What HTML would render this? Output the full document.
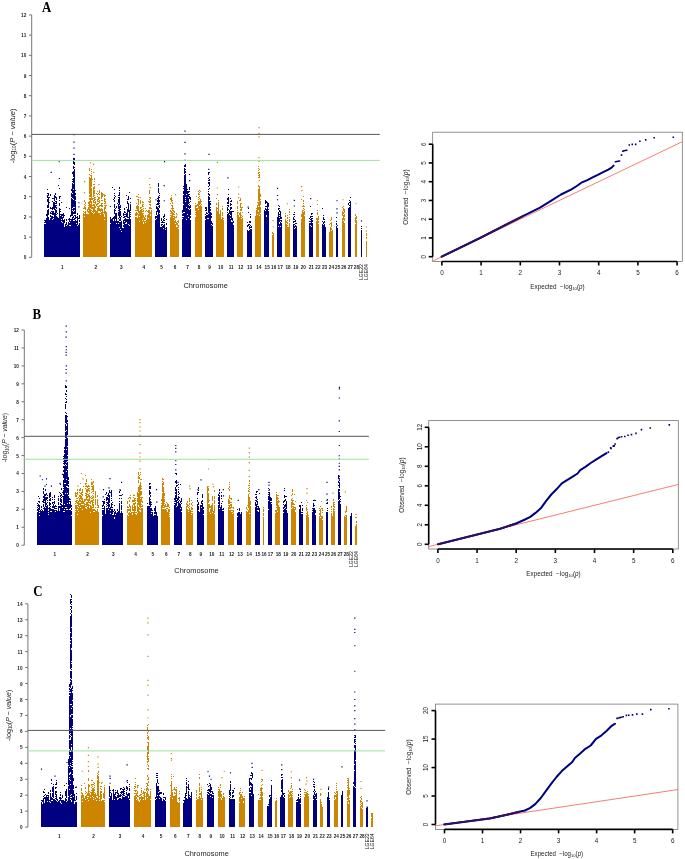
<!DOCTYPE html>
<html><head><meta charset="utf-8"><style>
html,body{margin:0;padding:0;background:#fff;width:685px;height:859px;overflow:hidden}
svg{display:block;will-change:transform}
text{font-family:"Liberation Sans",sans-serif;fill:#1a1a1a}
.tk{font-size:6px;font-weight:bold;fill:#222}
.ax{font-size:7.4px}
.tr{font-size:5.1px;fill:#111}
.qt{font-size:6.3px}
.qa{font-size:6.3px}
.lab{font-family:"Liberation Serif",serif;font-weight:bold;font-size:15.5px;fill:#000}
</style></head><body>
<svg width="685" height="859" viewBox="0 0 685 859">
<line x1="31.7" y1="257.3" x2="31.7" y2="14.9" stroke="#777" stroke-width="1"/>
<line x1="28.9" y1="257.3" x2="31.7" y2="257.3" stroke="#666" stroke-width="0.9"/>
<text transform="translate(26.3,259.3) scale(0.78,1)" class="tk" text-anchor="end">0</text>
<line x1="28.9" y1="237.1" x2="31.7" y2="237.1" stroke="#666" stroke-width="0.9"/>
<text transform="translate(26.3,239.1) scale(0.78,1)" class="tk" text-anchor="end">1</text>
<line x1="28.9" y1="216.9" x2="31.7" y2="216.9" stroke="#666" stroke-width="0.9"/>
<text transform="translate(26.3,218.9) scale(0.78,1)" class="tk" text-anchor="end">2</text>
<line x1="28.9" y1="196.7" x2="31.7" y2="196.7" stroke="#666" stroke-width="0.9"/>
<text transform="translate(26.3,198.7) scale(0.78,1)" class="tk" text-anchor="end">3</text>
<line x1="28.9" y1="176.5" x2="31.7" y2="176.5" stroke="#666" stroke-width="0.9"/>
<text transform="translate(26.3,178.5) scale(0.78,1)" class="tk" text-anchor="end">4</text>
<line x1="28.9" y1="156.3" x2="31.7" y2="156.3" stroke="#666" stroke-width="0.9"/>
<text transform="translate(26.3,158.3) scale(0.78,1)" class="tk" text-anchor="end">5</text>
<line x1="28.9" y1="136.1" x2="31.7" y2="136.1" stroke="#666" stroke-width="0.9"/>
<text transform="translate(26.3,138.1) scale(0.78,1)" class="tk" text-anchor="end">6</text>
<line x1="28.9" y1="115.9" x2="31.7" y2="115.9" stroke="#666" stroke-width="0.9"/>
<text transform="translate(26.3,117.9) scale(0.78,1)" class="tk" text-anchor="end">7</text>
<line x1="28.9" y1="95.7" x2="31.7" y2="95.7" stroke="#666" stroke-width="0.9"/>
<text transform="translate(26.3,97.7) scale(0.78,1)" class="tk" text-anchor="end">8</text>
<line x1="28.9" y1="75.5" x2="31.7" y2="75.5" stroke="#666" stroke-width="0.9"/>
<text transform="translate(26.3,77.5) scale(0.78,1)" class="tk" text-anchor="end">9</text>
<line x1="28.9" y1="55.3" x2="31.7" y2="55.3" stroke="#666" stroke-width="0.9"/>
<text transform="translate(26.3,57.3) scale(0.78,1)" class="tk" text-anchor="end">10</text>
<line x1="28.9" y1="35.1" x2="31.7" y2="35.1" stroke="#666" stroke-width="0.9"/>
<text transform="translate(26.3,37.1) scale(0.78,1)" class="tk" text-anchor="end">11</text>
<line x1="28.9" y1="14.9" x2="31.7" y2="14.9" stroke="#666" stroke-width="0.9"/>
<text transform="translate(26.3,16.9) scale(0.78,1)" class="tk" text-anchor="end">12</text>
<path d="M44 220h1v1h-1zM44 222h1v1h-1zM44 224h1v33h-1zM45 220h1v3h-1zM45 224h1v33h-1zM46 214h1v2h-1zM46 218h1v39h-1zM47 189h1v1h-1zM47 193h1v1h-1zM47 195h1v3h-1zM47 199h1v3h-1zM47 205h1v3h-1zM47 210h1v47h-1zM48 193h1v3h-1zM48 197h1v11h-1zM48 209h1v6h-1zM48 217h1v40h-1zM49 197h1v1h-1zM49 202h1v1h-1zM49 220h1v37h-1zM50 194h1v2h-1zM50 207h1v2h-1zM50 212h1v2h-1zM50 215h1v2h-1zM50 218h1v39h-1zM51 208h1v1h-1zM51 211h1v1h-1zM51 213h1v1h-1zM51 216h1v41h-1zM52 198h1v1h-1zM52 201h1v1h-1zM52 207h1v3h-1zM52 211h1v4h-1zM52 216h1v3h-1zM52 220h1v37h-1zM53 198h1v1h-1zM53 202h1v7h-1zM53 211h1v4h-1zM53 217h1v1h-1zM53 219h1v38h-1zM54 195h1v6h-1zM54 202h1v8h-1zM54 213h1v44h-1zM55 193h1v2h-1zM55 196h1v2h-1zM55 201h1v1h-1zM55 203h1v1h-1zM55 205h1v3h-1zM55 209h1v48h-1zM56 197h1v3h-1zM56 201h1v3h-1zM56 205h1v1h-1zM56 207h1v2h-1zM56 210h1v3h-1zM56 214h1v1h-1zM56 216h1v41h-1zM57 213h1v1h-1zM57 217h1v40h-1zM58 185h1v1h-1zM58 218h1v39h-1zM59 188h1v1h-1zM59 196h1v3h-1zM59 200h1v1h-1zM59 203h1v3h-1zM59 208h1v49h-1zM60 196h1v1h-1zM60 209h1v1h-1zM60 211h1v1h-1zM60 214h1v1h-1zM60 216h1v41h-1zM61 202h1v1h-1zM61 214h1v5h-1zM61 220h1v1h-1zM61 222h1v35h-1zM62 214h1v2h-1zM62 217h1v5h-1zM62 223h1v34h-1zM63 213h1v5h-1zM63 220h1v37h-1zM64 215h1v1h-1zM64 219h1v4h-1zM64 227h1v30h-1zM65 224h1v33h-1zM66 207h1v1h-1zM66 219h1v2h-1zM66 222h1v3h-1zM66 226h1v31h-1zM67 225h1v32h-1zM68 219h1v1h-1zM68 222h1v35h-1zM69 208h1v1h-1zM69 218h1v4h-1zM69 223h1v2h-1zM69 226h1v31h-1zM70 215h1v2h-1zM70 219h1v1h-1zM70 221h1v4h-1zM70 226h1v31h-1zM71 189h1v2h-1zM71 193h1v4h-1zM71 198h1v18h-1zM71 219h1v38h-1zM72 172h1v2h-1zM72 179h1v1h-1zM72 181h1v1h-1zM72 183h1v10h-1zM72 194h1v4h-1zM72 199h1v9h-1zM72 209h1v1h-1zM72 211h1v5h-1zM72 217h1v40h-1zM73 158h1v2h-1zM73 161h1v3h-1zM73 166h1v3h-1zM73 171h1v6h-1zM73 178h1v5h-1zM73 184h1v5h-1zM73 190h1v9h-1zM73 200h1v7h-1zM73 208h1v3h-1zM73 212h1v2h-1zM73 216h1v2h-1zM73 219h1v1h-1zM73 221h1v36h-1zM74 158h1v3h-1zM74 162h1v3h-1zM74 167h1v1h-1zM74 169h1v38h-1zM74 208h1v2h-1zM74 211h1v3h-1zM74 215h1v1h-1zM74 218h1v2h-1zM74 221h1v36h-1zM75 190h1v1h-1zM75 193h1v2h-1zM75 196h1v4h-1zM75 201h1v13h-1zM75 215h1v4h-1zM75 220h1v37h-1zM76 217h1v1h-1zM76 221h1v2h-1zM76 224h1v33h-1zM77 213h1v2h-1zM77 216h1v9h-1zM77 226h1v31h-1zM78 218h1v1h-1zM78 225h1v32h-1zM79 215h1v4h-1zM79 220h1v2h-1zM79 223h1v34h-1z" fill="#000080" shape-rendering="crispEdges"/>
<path d="M50.6 171.86h1.2v1.2h-1.2ZM58.6 161.15h1.2v1.2h-1.2ZM58.8 177.92h1.2v1.2h-1.2ZM78.3 202.16h1.2v1.2h-1.2ZM78.3 206.2h1.2v1.2h-1.2ZM73.4 134.09h1.2v1.2h-1.2ZM73.4 141.56h1.2v1.2h-1.2ZM73.4 147.62h1.2v1.2h-1.2ZM73.4 153.68h1.2v1.2h-1.2Z" fill="#000080"/>
<text transform="translate(62.4,269) scale(0.78,1)" class="tk" text-anchor="middle">1</text>
<path d="M83 208h1v1h-1zM83 211h1v1h-1zM83 213h1v44h-1zM84 200h1v2h-1zM84 204h1v1h-1zM84 206h1v3h-1zM84 212h1v1h-1zM84 214h1v2h-1zM84 217h1v40h-1zM85 202h1v2h-1zM85 205h1v1h-1zM85 207h1v3h-1zM85 211h1v46h-1zM86 214h1v43h-1zM87 209h1v3h-1zM87 214h1v43h-1zM88 202h1v2h-1zM88 205h1v1h-1zM88 207h1v3h-1zM88 211h1v2h-1zM88 214h1v43h-1zM89 168h1v3h-1zM89 174h1v1h-1zM89 177h1v17h-1zM89 195h1v2h-1zM89 198h1v2h-1zM89 201h1v56h-1zM90 175h1v1h-1zM90 178h1v19h-1zM90 198h1v5h-1zM90 204h1v4h-1zM90 209h1v48h-1zM91 169h1v1h-1zM91 171h1v1h-1zM91 173h1v1h-1zM91 175h1v12h-1zM91 188h1v12h-1zM91 201h1v8h-1zM91 210h1v1h-1zM91 212h1v45h-1zM92 179h1v1h-1zM92 198h1v2h-1zM92 205h1v1h-1zM92 207h1v2h-1zM92 211h1v1h-1zM92 213h1v44h-1zM93 184h1v1h-1zM93 187h1v10h-1zM93 198h1v1h-1zM93 200h1v3h-1zM93 204h1v2h-1zM93 207h1v6h-1zM93 214h1v43h-1zM94 178h1v2h-1zM94 181h1v1h-1zM94 184h1v1h-1zM94 186h1v3h-1zM94 190h1v4h-1zM94 195h1v1h-1zM94 197h1v4h-1zM94 202h1v1h-1zM94 204h1v8h-1zM94 213h1v44h-1zM95 197h1v1h-1zM95 199h1v1h-1zM95 201h1v3h-1zM95 206h1v2h-1zM95 210h1v47h-1zM96 193h1v1h-1zM96 204h1v2h-1zM96 211h1v46h-1zM97 191h1v1h-1zM97 194h1v1h-1zM97 196h1v1h-1zM97 199h1v3h-1zM97 203h1v2h-1zM97 206h1v1h-1zM97 208h1v49h-1zM98 193h1v1h-1zM98 197h1v3h-1zM98 201h1v1h-1zM98 203h1v1h-1zM98 206h1v5h-1zM98 213h1v44h-1zM99 190h1v3h-1zM99 194h1v1h-1zM99 197h1v2h-1zM99 200h1v3h-1zM99 205h1v2h-1zM99 208h1v3h-1zM99 213h1v44h-1zM100 205h1v1h-1zM100 209h1v3h-1zM100 213h1v1h-1zM100 215h1v42h-1zM101 192h1v7h-1zM101 200h1v1h-1zM101 203h1v4h-1zM101 208h1v3h-1zM101 212h1v45h-1zM102 193h1v4h-1zM102 200h1v1h-1zM102 203h1v1h-1zM102 205h1v2h-1zM102 209h1v48h-1zM103 194h1v1h-1zM103 212h1v1h-1zM103 214h1v43h-1zM104 195h1v2h-1zM104 198h1v4h-1zM104 203h1v1h-1zM104 205h1v1h-1zM104 207h1v7h-1zM104 217h1v2h-1zM104 220h1v37h-1zM105 195h1v1h-1zM105 199h1v1h-1zM105 201h1v3h-1zM105 205h1v4h-1zM105 211h1v46h-1zM106 205h1v1h-1zM106 212h1v45h-1z" fill="#CD8500" shape-rendering="crispEdges"/>
<path d="M83.9 192.06h1.2v1.2h-1.2ZM84.1 180.95h1.2v1.2h-1.2ZM90 162.37h1.2v1.2h-1.2ZM92.9 163.78h1.2v1.2h-1.2ZM93.1 171.86h1.2v1.2h-1.2ZM98.4 183.98h1.2v1.2h-1.2ZM103.4 194.08h1.2v1.2h-1.2Z" fill="#CD8500"/>
<text transform="translate(95.75,269) scale(0.78,1)" class="tk" text-anchor="middle">2</text>
<path d="M110 206h1v1h-1zM110 217h1v6h-1zM110 224h1v33h-1zM111 219h1v38h-1zM112 187h1v1h-1zM112 218h1v39h-1zM113 199h1v1h-1zM113 217h1v2h-1zM113 221h1v36h-1zM114 189h1v1h-1zM114 193h1v1h-1zM114 195h1v1h-1zM114 197h1v2h-1zM114 200h1v2h-1zM114 204h1v4h-1zM114 209h1v5h-1zM114 216h1v41h-1zM115 196h1v1h-1zM115 208h1v1h-1zM115 210h1v1h-1zM115 213h1v6h-1zM115 221h1v36h-1zM116 206h1v2h-1zM116 213h1v10h-1zM116 224h1v33h-1zM117 203h1v1h-1zM117 221h1v36h-1zM118 195h1v1h-1zM118 197h1v1h-1zM118 199h1v4h-1zM118 204h1v5h-1zM118 210h1v1h-1zM118 212h1v4h-1zM118 218h1v1h-1zM118 221h1v2h-1zM118 224h1v33h-1zM119 187h1v2h-1zM119 190h1v1h-1zM119 192h1v4h-1zM119 197h1v8h-1zM119 206h1v12h-1zM119 219h1v2h-1zM119 222h1v5h-1zM119 228h1v29h-1zM120 205h1v3h-1zM120 209h1v1h-1zM120 211h1v5h-1zM120 217h1v4h-1zM120 222h1v7h-1zM120 230h1v27h-1zM121 216h1v1h-1zM121 221h1v10h-1zM121 232h1v25h-1zM122 228h1v29h-1zM123 213h1v3h-1zM123 217h1v1h-1zM123 220h1v4h-1zM123 225h1v2h-1zM123 228h1v29h-1zM124 208h1v2h-1zM124 211h1v2h-1zM124 214h1v1h-1zM124 216h1v2h-1zM124 219h1v2h-1zM124 222h1v35h-1zM125 212h1v1h-1zM125 214h1v1h-1zM125 216h1v1h-1zM125 218h1v5h-1zM125 224h1v33h-1zM126 195h1v1h-1zM126 207h1v1h-1zM126 213h1v4h-1zM126 219h1v3h-1zM126 224h1v33h-1zM127 199h1v1h-1zM127 201h1v3h-1zM127 209h1v9h-1zM127 219h1v38h-1zM128 196h1v4h-1zM128 203h1v9h-1zM128 217h1v1h-1zM128 219h1v5h-1zM128 225h1v32h-1zM129 192h1v1h-1zM129 210h1v15h-1zM129 226h1v31h-1zM130 198h1v1h-1zM130 202h1v1h-1zM130 204h1v7h-1zM130 212h1v1h-1zM130 214h1v1h-1zM130 216h1v1h-1zM130 219h1v38h-1z" fill="#000080" shape-rendering="crispEdges"/>
<text transform="translate(121.4,269) scale(0.78,1)" class="tk" text-anchor="middle">3</text>
<path d="M135 210h1v1h-1zM135 213h1v3h-1zM135 217h1v40h-1zM136 196h1v1h-1zM136 203h1v1h-1zM136 206h1v3h-1zM136 210h1v1h-1zM136 212h1v4h-1zM136 217h1v40h-1zM137 196h1v1h-1zM137 199h1v1h-1zM137 205h1v6h-1zM137 213h1v2h-1zM137 218h1v39h-1zM138 194h1v1h-1zM138 197h1v1h-1zM138 199h1v6h-1zM138 206h1v7h-1zM138 214h1v43h-1zM139 211h1v5h-1zM139 217h1v4h-1zM139 222h1v35h-1zM140 200h1v4h-1zM140 207h1v2h-1zM140 210h1v47h-1zM141 207h1v1h-1zM141 209h1v48h-1zM142 201h1v2h-1zM142 204h1v3h-1zM142 209h1v1h-1zM142 211h1v1h-1zM142 213h1v7h-1zM142 221h1v36h-1zM143 202h1v1h-1zM143 204h1v1h-1zM143 206h1v1h-1zM143 208h1v1h-1zM143 210h1v2h-1zM143 213h1v1h-1zM143 215h1v3h-1zM143 219h1v3h-1zM143 224h1v33h-1zM144 217h1v3h-1zM144 221h1v36h-1zM145 208h1v1h-1zM145 211h1v1h-1zM145 215h1v2h-1zM145 218h1v2h-1zM145 221h1v1h-1zM145 223h1v34h-1zM146 210h1v1h-1zM146 220h1v37h-1zM147 211h1v1h-1zM147 215h1v42h-1zM148 201h1v1h-1zM148 210h1v3h-1zM148 214h1v4h-1zM148 219h1v38h-1zM149 190h1v4h-1zM149 197h1v1h-1zM149 199h1v1h-1zM149 201h1v2h-1zM149 204h1v1h-1zM149 207h1v2h-1zM149 210h1v47h-1zM150 197h1v2h-1zM150 200h1v3h-1zM150 204h1v2h-1zM150 207h1v2h-1zM150 212h1v2h-1zM150 216h1v41h-1zM151 208h1v1h-1zM151 210h1v47h-1z" fill="#CD8500" shape-rendering="crispEdges"/>
<path d="M149.2 177.92h1.2v1.2h-1.2ZM149 183.98h1.2v1.2h-1.2ZM149.6 187.01h1.2v1.2h-1.2ZM139.6 197.11h1.2v1.2h-1.2Z" fill="#CD8500"/>
<text transform="translate(143.8,269) scale(0.78,1)" class="tk" text-anchor="middle">4</text>
<path d="M155 216h1v3h-1zM155 220h1v37h-1zM156 204h1v1h-1zM156 206h1v3h-1zM156 211h1v4h-1zM156 216h1v2h-1zM156 219h1v38h-1zM157 198h1v1h-1zM157 200h1v2h-1zM157 203h1v2h-1zM157 207h1v5h-1zM157 215h1v42h-1zM158 183h1v4h-1zM158 188h1v5h-1zM158 196h1v9h-1zM158 206h1v1h-1zM158 208h1v49h-1zM159 193h1v1h-1zM159 195h1v1h-1zM159 197h1v1h-1zM159 200h1v2h-1zM159 203h1v1h-1zM159 205h1v3h-1zM159 210h1v3h-1zM159 214h1v43h-1zM160 227h1v30h-1zM161 218h1v3h-1zM161 222h1v1h-1zM161 224h1v2h-1zM161 227h1v30h-1zM162 221h1v2h-1zM162 224h1v1h-1zM162 226h1v31h-1zM163 216h1v2h-1zM163 219h1v2h-1zM163 222h1v1h-1zM163 225h1v3h-1zM163 229h1v28h-1zM164 214h1v3h-1zM164 218h1v1h-1zM164 220h1v1h-1zM164 222h1v1h-1zM164 224h1v33h-1zM165 228h1v1h-1zM165 230h1v27h-1zM166 219h1v1h-1zM166 223h1v2h-1zM166 227h1v30h-1z" fill="#000080" shape-rendering="crispEdges"/>
<path d="M163.9 160.95h1.2v1.2h-1.2ZM163.6 184.99h1.2v1.2h-1.2ZM163.7 200.14h1.2v1.2h-1.2ZM155.4 199.13h1.2v1.2h-1.2Z" fill="#000080"/>
<text transform="translate(161.45,269) scale(0.78,1)" class="tk" text-anchor="middle">5</text>
<path d="M170 198h1v2h-1zM170 203h1v1h-1zM170 210h1v2h-1zM170 213h1v1h-1zM170 215h1v1h-1zM170 217h1v40h-1zM171 195h1v1h-1zM171 197h1v5h-1zM171 205h1v1h-1zM171 208h1v1h-1zM171 211h1v3h-1zM171 215h1v42h-1zM172 200h1v1h-1zM172 202h1v2h-1zM172 205h1v6h-1zM172 212h1v45h-1zM173 208h1v1h-1zM173 210h1v2h-1zM173 213h1v2h-1zM173 216h1v1h-1zM173 218h1v39h-1zM174 211h1v2h-1zM174 214h1v1h-1zM174 216h1v4h-1zM174 221h1v36h-1zM175 217h1v1h-1zM175 220h1v3h-1zM175 224h1v33h-1zM176 213h1v1h-1zM176 216h1v2h-1zM176 222h1v3h-1zM176 227h1v30h-1zM177 221h1v1h-1zM177 223h1v3h-1zM177 227h1v30h-1zM178 220h1v3h-1zM178 225h1v3h-1zM178 229h1v28h-1z" fill="#CD8500" shape-rendering="crispEdges"/>
<path d="M174.9 194.08h1.2v1.2h-1.2ZM176.4 214.28h1.2v1.2h-1.2Z" fill="#CD8500"/>
<text transform="translate(175.1,269) scale(0.78,1)" class="tk" text-anchor="middle">6</text>
<path d="M182 210h1v3h-1zM182 214h1v2h-1zM182 217h1v1h-1zM182 219h1v38h-1zM183 186h1v1h-1zM183 188h1v1h-1zM183 191h1v3h-1zM183 195h1v9h-1zM183 205h1v7h-1zM183 213h1v3h-1zM183 217h1v40h-1zM184 165h1v2h-1zM184 168h1v6h-1zM184 175h1v37h-1zM184 213h1v44h-1zM185 164h1v3h-1zM185 169h1v1h-1zM185 171h1v2h-1zM185 174h1v23h-1zM185 198h1v1h-1zM185 200h1v1h-1zM185 202h1v55h-1zM186 184h1v10h-1zM186 195h1v12h-1zM186 208h1v11h-1zM186 220h1v37h-1zM187 189h1v1h-1zM187 191h1v23h-1zM187 215h1v42h-1zM188 191h1v2h-1zM188 194h1v3h-1zM188 198h1v6h-1zM188 205h1v3h-1zM188 209h1v8h-1zM188 218h1v39h-1zM189 187h1v3h-1zM189 191h1v1h-1zM189 194h1v1h-1zM189 196h1v3h-1zM189 202h1v1h-1zM189 204h1v1h-1zM189 206h1v3h-1zM189 210h1v47h-1zM190 197h1v3h-1zM190 201h1v1h-1zM190 205h1v3h-1zM190 209h1v6h-1zM190 216h1v2h-1zM190 220h1v37h-1z" fill="#000080" shape-rendering="crispEdges"/>
<path d="M184.4 130.45h1.2v1.2h-1.2ZM184.4 141.76h1.2v1.2h-1.2ZM184.4 153.28h1.2v1.2h-1.2ZM184.4 159.74h1.2v1.2h-1.2ZM188.9 173.88h1.2v1.2h-1.2ZM189.1 179.94h1.2v1.2h-1.2Z" fill="#000080"/>
<text transform="translate(187.45,269) scale(0.78,1)" class="tk" text-anchor="middle">7</text>
<path d="M195 203h1v1h-1zM195 205h1v6h-1zM195 212h1v1h-1zM195 214h1v1h-1zM195 217h1v40h-1zM196 196h1v1h-1zM196 205h1v2h-1zM196 208h1v49h-1zM197 204h1v2h-1zM197 208h1v49h-1zM198 191h1v1h-1zM198 193h1v2h-1zM198 197h1v1h-1zM198 199h1v1h-1zM198 201h1v8h-1zM198 210h1v47h-1zM199 190h1v1h-1zM199 192h1v1h-1zM199 194h1v1h-1zM199 196h1v1h-1zM199 198h1v1h-1zM199 201h1v4h-1zM199 206h1v51h-1zM200 191h1v1h-1zM200 199h1v5h-1zM200 205h1v52h-1zM201 201h1v1h-1zM201 204h1v1h-1zM201 206h1v51h-1z" fill="#CD8500" shape-rendering="crispEdges"/>
<text transform="translate(198.95,269) scale(0.78,1)" class="tk" text-anchor="middle">8</text>
<path d="M205 207h1v2h-1zM205 210h1v1h-1zM205 214h1v1h-1zM205 216h1v3h-1zM205 220h1v37h-1zM206 207h1v4h-1zM206 212h1v2h-1zM206 215h1v42h-1zM207 213h1v1h-1zM207 215h1v3h-1zM207 219h1v38h-1zM208 172h1v3h-1zM208 178h1v1h-1zM208 180h1v1h-1zM208 182h1v2h-1zM208 186h1v1h-1zM208 189h1v1h-1zM208 191h1v1h-1zM208 193h1v2h-1zM208 196h1v17h-1zM208 214h1v4h-1zM208 219h1v38h-1zM209 172h1v1h-1zM209 177h1v1h-1zM209 179h1v2h-1zM209 182h1v4h-1zM209 188h1v1h-1zM209 194h1v2h-1zM209 197h1v3h-1zM209 201h1v56h-1zM210 201h1v1h-1zM210 203h1v2h-1zM210 207h1v1h-1zM210 209h1v2h-1zM210 212h1v45h-1zM211 213h1v2h-1zM211 216h1v2h-1zM211 221h1v3h-1zM211 225h1v32h-1zM212 223h1v2h-1zM212 226h1v31h-1z" fill="#000080" shape-rendering="crispEdges"/>
<path d="M208.4 153.68h1.2v1.2h-1.2ZM208.2 168.83h1.2v1.2h-1.2Z" fill="#000080"/>
<text transform="translate(209.6,269) scale(0.78,1)" class="tk" text-anchor="middle">9</text>
<path d="M216 198h1v1h-1zM216 203h1v2h-1zM216 207h1v50h-1zM217 208h1v1h-1zM217 211h1v46h-1zM218 200h1v1h-1zM218 202h1v55h-1zM219 214h1v43h-1zM220 210h1v47h-1zM221 219h1v38h-1zM222 206h1v1h-1zM222 208h1v2h-1zM222 212h1v4h-1zM222 217h1v40h-1zM223 218h1v1h-1zM223 220h1v37h-1z" fill="#CD8500" shape-rendering="crispEdges"/>
<path d="M216.7 161.76h1.2v1.2h-1.2ZM216.6 187.41h1.2v1.2h-1.2ZM216.8 194.08h1.2v1.2h-1.2Z" fill="#CD8500"/>
<text transform="translate(220.65,269) scale(0.78,1)" class="tk" text-anchor="middle">10</text>
<path d="M227 198h1v2h-1zM227 202h1v2h-1zM227 205h1v1h-1zM227 207h1v4h-1zM227 212h1v1h-1zM227 214h1v43h-1zM228 189h1v1h-1zM228 194h1v1h-1zM228 197h1v7h-1zM228 205h1v2h-1zM228 209h1v1h-1zM228 213h1v44h-1zM229 210h1v4h-1zM229 215h1v42h-1zM230 198h1v1h-1zM230 201h1v1h-1zM230 203h1v3h-1zM230 207h1v3h-1zM230 211h1v4h-1zM230 216h1v2h-1zM230 219h1v38h-1zM231 200h1v2h-1zM231 204h1v1h-1zM231 207h1v2h-1zM231 211h1v9h-1zM231 222h1v35h-1zM232 211h1v1h-1zM232 218h1v3h-1zM232 222h1v35h-1zM233 211h1v1h-1zM233 221h1v2h-1zM233 225h1v32h-1z" fill="#000080" shape-rendering="crispEdges"/>
<path d="M227.3 177.31h1.2v1.2h-1.2Z" fill="#000080"/>
<text transform="translate(231.15,269) scale(0.78,1)" class="tk" text-anchor="middle">11</text>
<path d="M237 201h1v3h-1zM237 206h1v3h-1zM237 210h1v1h-1zM237 212h1v45h-1zM238 212h1v1h-1zM238 215h1v42h-1zM239 200h1v1h-1zM239 213h1v2h-1zM239 217h1v40h-1zM240 198h1v3h-1zM240 203h1v5h-1zM240 209h1v2h-1zM240 212h1v45h-1zM241 203h1v1h-1zM241 207h1v4h-1zM241 215h1v1h-1zM241 217h1v1h-1zM241 219h1v38h-1zM242 207h1v1h-1zM242 212h1v1h-1zM242 216h1v1h-1zM242 218h1v39h-1z" fill="#CD8500" shape-rendering="crispEdges"/>
<path d="M238.1 186.4h1.2v1.2h-1.2ZM238.1 193.47h1.2v1.2h-1.2ZM238.1 196.91h1.2v1.2h-1.2Z" fill="#CD8500"/>
<text transform="translate(240.7,269) scale(0.78,1)" class="tk" text-anchor="middle">12</text>
<path d="M247 222h1v1h-1zM247 225h1v2h-1zM247 230h1v27h-1zM248 208h1v1h-1zM248 212h1v1h-1zM248 224h1v2h-1zM248 231h1v26h-1zM249 221h1v2h-1zM249 224h1v1h-1zM249 226h1v3h-1zM249 230h1v27h-1zM250 214h1v1h-1zM250 216h1v2h-1zM250 221h1v2h-1zM250 225h1v1h-1zM250 227h1v1h-1zM250 229h1v28h-1zM251 226h1v2h-1zM251 229h1v28h-1z" fill="#000080" shape-rendering="crispEdges"/>
<path d="M247.6 206.6h1.2v1.2h-1.2Z" fill="#000080"/>
<text transform="translate(249.6,269) scale(0.78,1)" class="tk" text-anchor="middle">13</text>
<path d="M255 216h1v41h-1zM256 208h1v1h-1zM256 210h1v47h-1zM257 202h1v1h-1zM257 205h1v9h-1zM257 215h1v42h-1zM258 166h1v1h-1zM258 168h1v1h-1zM258 170h1v1h-1zM258 172h1v2h-1zM258 175h1v1h-1zM258 177h1v1h-1zM258 185h1v2h-1zM258 189h1v12h-1zM258 202h1v4h-1zM258 207h1v3h-1zM258 212h1v45h-1zM259 169h1v1h-1zM259 172h1v1h-1zM259 174h1v4h-1zM259 180h1v1h-1zM259 186h1v29h-1zM259 216h1v41h-1zM260 194h1v3h-1zM260 199h1v1h-1zM260 201h1v4h-1zM260 207h1v6h-1zM260 214h1v43h-1z" fill="#CD8500" shape-rendering="crispEdges"/>
<path d="M258.4 127.02h1.2v1.2h-1.2ZM258.4 132.87h1.2v1.2h-1.2ZM258.4 136.31h1.2v1.2h-1.2ZM258.4 157.11h1.2v1.2h-1.2ZM258.4 160.75h1.2v1.2h-1.2Z" fill="#CD8500"/>
<text transform="translate(258.85,269) scale(0.78,1)" class="tk" text-anchor="middle">14</text>
<path d="M264 210h1v47h-1zM265 200h1v4h-1zM265 206h1v1h-1zM265 208h1v2h-1zM265 211h1v46h-1zM266 201h1v2h-1zM266 206h1v1h-1zM266 209h1v6h-1zM266 217h1v40h-1zM267 202h1v55h-1zM268 203h1v4h-1zM268 209h1v1h-1zM268 211h1v46h-1z" fill="#000080" shape-rendering="crispEdges"/>
<text transform="translate(267.2,269) scale(0.78,1)" class="tk" text-anchor="middle">15</text>
<path d="M272 232h1v2h-1zM272 235h1v22h-1zM273 233h1v24h-1z" fill="#CD8500" shape-rendering="crispEdges"/>
<path d="M272.4 219.94h1.2v1.2h-1.2ZM272.6 226.4h1.2v1.2h-1.2Z" fill="#CD8500"/>
<text transform="translate(273.65,269) scale(0.78,1)" class="tk" text-anchor="middle">16</text>
<path d="M277 217h1v40h-1zM278 205h1v1h-1zM278 208h1v2h-1zM278 212h1v14h-1zM278 227h1v30h-1zM279 206h1v1h-1zM279 208h1v1h-1zM279 210h1v2h-1zM279 214h1v1h-1zM279 216h1v1h-1zM279 218h1v4h-1zM279 224h1v33h-1zM280 211h1v8h-1zM280 220h1v1h-1zM280 222h1v4h-1zM280 227h1v30h-1zM281 217h1v2h-1zM281 220h1v2h-1zM281 223h1v34h-1z" fill="#000080" shape-rendering="crispEdges"/>
<path d="M276.9 187.82h1.2v1.2h-1.2ZM276.9 194.89h1.2v1.2h-1.2ZM276.9 199.13h1.2v1.2h-1.2Z" fill="#000080"/>
<text transform="translate(280.2,269) scale(0.78,1)" class="tk" text-anchor="middle">17</text>
<path d="M285 213h1v1h-1zM285 215h1v2h-1zM285 219h1v38h-1zM286 221h1v2h-1zM286 224h1v33h-1zM287 215h1v1h-1zM287 217h1v2h-1zM287 220h1v1h-1zM287 222h1v2h-1zM287 225h1v1h-1zM287 227h1v30h-1zM288 227h1v30h-1zM289 209h1v1h-1zM289 211h1v2h-1zM289 214h1v1h-1zM289 217h1v1h-1zM289 219h1v3h-1zM289 223h1v34h-1z" fill="#CD8500" shape-rendering="crispEdges"/>
<path d="M286.7 203.17h1.2v1.2h-1.2Z" fill="#CD8500"/>
<text transform="translate(288.1,269) scale(0.78,1)" class="tk" text-anchor="middle">18</text>
<path d="M293 214h1v1h-1zM293 217h1v3h-1zM293 221h1v2h-1zM293 224h1v33h-1zM294 212h1v1h-1zM294 214h1v1h-1zM294 216h1v1h-1zM294 219h1v1h-1zM294 221h1v1h-1zM294 224h1v1h-1zM294 226h1v2h-1zM294 229h1v28h-1zM295 220h1v2h-1zM295 223h1v1h-1zM295 225h1v2h-1zM295 228h1v29h-1zM296 223h1v1h-1zM296 226h1v31h-1z" fill="#000080" shape-rendering="crispEdges"/>
<path d="M293.7 199.74h1.2v1.2h-1.2ZM293.7 205.39h1.2v1.2h-1.2Z" fill="#000080"/>
<text transform="translate(295.75,269) scale(0.78,1)" class="tk" text-anchor="middle">19</text>
<path d="M301 199h1v1h-1zM301 214h1v3h-1zM301 219h1v38h-1zM302 206h1v1h-1zM302 210h1v47h-1zM303 196h1v1h-1zM303 200h1v2h-1zM303 203h1v1h-1zM303 205h1v2h-1zM303 208h1v1h-1zM303 210h1v1h-1zM303 212h1v45h-1zM304 206h1v1h-1zM304 209h1v1h-1zM304 211h1v4h-1zM304 216h1v41h-1z" fill="#CD8500" shape-rendering="crispEdges"/>
<path d="M300.9 186h1.2v1.2h-1.2ZM301.4 190.04h1.2v1.2h-1.2Z" fill="#CD8500"/>
<text transform="translate(303.35,269) scale(0.78,1)" class="tk" text-anchor="middle">20</text>
<path d="M309 218h1v1h-1zM309 221h1v1h-1zM309 223h1v34h-1zM310 206h1v1h-1zM310 216h1v2h-1zM310 219h1v1h-1zM310 221h1v1h-1zM310 223h1v2h-1zM310 226h1v31h-1zM311 213h1v2h-1zM311 216h1v1h-1zM311 218h1v8h-1zM311 227h1v30h-1zM312 213h1v1h-1zM312 216h1v1h-1zM312 218h1v1h-1zM312 220h1v2h-1zM312 223h1v34h-1z" fill="#000080" shape-rendering="crispEdges"/>
<path d="M310.1 198.12h1.2v1.2h-1.2Z" fill="#000080"/>
<text transform="translate(311.25,269) scale(0.78,1)" class="tk" text-anchor="middle">21</text>
<path d="M316 218h1v2h-1zM316 221h1v36h-1zM317 204h1v1h-1zM317 210h1v1h-1zM317 212h1v3h-1zM317 218h1v39h-1zM318 216h1v4h-1zM318 221h1v2h-1zM318 224h1v33h-1z" fill="#CD8500" shape-rendering="crispEdges"/>
<path d="M316.7 200.14h1.2v1.2h-1.2Z" fill="#CD8500"/>
<text transform="translate(317.95,269) scale(0.78,1)" class="tk" text-anchor="middle">22</text>
<path d="M322 208h1v1h-1zM322 221h1v1h-1zM322 224h1v33h-1zM323 215h1v1h-1zM323 217h1v3h-1zM323 222h1v2h-1zM323 225h1v32h-1zM324 219h1v1h-1zM324 221h1v2h-1zM324 224h1v33h-1zM325 227h1v30h-1z" fill="#000080" shape-rendering="crispEdges"/>
<text transform="translate(324.5,269) scale(0.78,1)" class="tk" text-anchor="middle">23</text>
<path d="M329 224h1v1h-1zM329 232h1v25h-1zM330 220h1v1h-1zM330 223h1v1h-1zM330 227h1v30h-1zM331 217h1v3h-1zM331 222h1v5h-1zM331 228h1v2h-1zM331 231h1v26h-1zM332 230h1v27h-1z" fill="#CD8500" shape-rendering="crispEdges"/>
<text transform="translate(331.4,269) scale(0.78,1)" class="tk" text-anchor="middle">24</text>
<path d="M336 217h1v1h-1zM336 221h1v1h-1zM336 223h1v2h-1zM336 226h1v31h-1zM337 225h1v1h-1zM337 228h1v29h-1z" fill="#000080" shape-rendering="crispEdges"/>
<path d="M336.4 200.14h1.2v1.2h-1.2ZM336.4 208.22h1.2v1.2h-1.2ZM336.4 212.26h1.2v1.2h-1.2Z" fill="#000080"/>
<text transform="translate(337.7,269) scale(0.78,1)" class="tk" text-anchor="middle">25</text>
<path d="M342 207h1v1h-1zM342 211h1v5h-1zM342 218h1v39h-1zM343 206h1v1h-1zM343 208h1v3h-1zM343 212h1v2h-1zM343 215h1v5h-1zM343 221h1v36h-1zM344 209h1v4h-1zM344 214h1v3h-1zM344 218h1v3h-1zM344 223h1v34h-1z" fill="#CD8500" shape-rendering="crispEdges"/>
<path d="M342.4 199.13h1.2v1.2h-1.2Z" fill="#CD8500"/>
<text transform="translate(343.85,269) scale(0.78,1)" class="tk" text-anchor="middle">26</text>
<path d="M348 203h1v2h-1zM348 208h1v49h-1zM349 200h1v1h-1zM349 202h1v1h-1zM349 205h1v1h-1zM349 207h1v50h-1zM350 197h1v1h-1zM350 201h1v56h-1z" fill="#000080" shape-rendering="crispEdges"/>
<text transform="translate(350.25,269) scale(0.78,1)" class="tk" text-anchor="middle">27</text>
<path d="M355 214h1v2h-1zM355 217h1v6h-1zM355 224h1v33h-1zM356 216h1v3h-1zM356 220h1v37h-1z" fill="#CD8500" shape-rendering="crispEdges"/>
<path d="M355.4 203.17h1.2v1.2h-1.2Z" fill="#CD8500"/>
<text transform="translate(356.4,269) scale(0.78,1)" class="tk" text-anchor="middle">28</text>
<path d="M361 226h1v1h-1zM361 228h1v1h-1zM361 230h1v27h-1z" fill="#000080" shape-rendering="crispEdges"/>
<path d="M360.9 220.34h1.2v1.2h-1.2Z" fill="#000080"/>
<text transform="translate(363.4,264.15) rotate(-90)" class="tr" text-anchor="end">LGE22</text>
<path d="M366 233h1v3h-1zM366 237h1v2h-1zM366 241h1v16h-1z" fill="#CD8500" shape-rendering="crispEdges"/>
<path d="M365.7 226.4h1.2v1.2h-1.2ZM365.7 230.44h1.2v1.2h-1.2Z" fill="#CD8500"/>
<text transform="translate(368.1,264.15) rotate(-90)" class="tr" text-anchor="end">LGE64</text>
<line x1="31.7" y1="134.4" x2="379.7" y2="134.4" stroke="#555" stroke-width="1"/>
<line x1="31.7" y1="160.4" x2="379.7" y2="160.4" stroke="#9de49d" stroke-width="1"/>
<text x="205.6" y="288" class="ax" text-anchor="middle">Chromosome</text>
<text transform="translate(14.6,135.8) rotate(-90) scale(1.035,1)" class="ax" text-anchor="middle">-log<tspan font-size="4.5" dy="1.5">10</tspan><tspan dy="-1.5">(</tspan><tspan font-style="italic">P − value</tspan>)</text>
<text transform="translate(42,12.3) scale(0.83,1)" class="lab">A</text>
<line x1="24.3" y1="545.2" x2="24.3" y2="330.04" stroke="#777" stroke-width="1"/>
<line x1="21.5" y1="545.2" x2="24.3" y2="545.2" stroke="#666" stroke-width="0.9"/>
<text transform="translate(18.9,547.2) scale(0.78,1)" class="tk" text-anchor="end">0</text>
<line x1="21.5" y1="527.27" x2="24.3" y2="527.27" stroke="#666" stroke-width="0.9"/>
<text transform="translate(18.9,529.27) scale(0.78,1)" class="tk" text-anchor="end">1</text>
<line x1="21.5" y1="509.34" x2="24.3" y2="509.34" stroke="#666" stroke-width="0.9"/>
<text transform="translate(18.9,511.34) scale(0.78,1)" class="tk" text-anchor="end">2</text>
<line x1="21.5" y1="491.41" x2="24.3" y2="491.41" stroke="#666" stroke-width="0.9"/>
<text transform="translate(18.9,493.41) scale(0.78,1)" class="tk" text-anchor="end">3</text>
<line x1="21.5" y1="473.48" x2="24.3" y2="473.48" stroke="#666" stroke-width="0.9"/>
<text transform="translate(18.9,475.48) scale(0.78,1)" class="tk" text-anchor="end">4</text>
<line x1="21.5" y1="455.55" x2="24.3" y2="455.55" stroke="#666" stroke-width="0.9"/>
<text transform="translate(18.9,457.55) scale(0.78,1)" class="tk" text-anchor="end">5</text>
<line x1="21.5" y1="437.62" x2="24.3" y2="437.62" stroke="#666" stroke-width="0.9"/>
<text transform="translate(18.9,439.62) scale(0.78,1)" class="tk" text-anchor="end">6</text>
<line x1="21.5" y1="419.69" x2="24.3" y2="419.69" stroke="#666" stroke-width="0.9"/>
<text transform="translate(18.9,421.69) scale(0.78,1)" class="tk" text-anchor="end">7</text>
<line x1="21.5" y1="401.76" x2="24.3" y2="401.76" stroke="#666" stroke-width="0.9"/>
<text transform="translate(18.9,403.76) scale(0.78,1)" class="tk" text-anchor="end">8</text>
<line x1="21.5" y1="383.83" x2="24.3" y2="383.83" stroke="#666" stroke-width="0.9"/>
<text transform="translate(18.9,385.83) scale(0.78,1)" class="tk" text-anchor="end">9</text>
<line x1="21.5" y1="365.9" x2="24.3" y2="365.9" stroke="#666" stroke-width="0.9"/>
<text transform="translate(18.9,367.9) scale(0.78,1)" class="tk" text-anchor="end">10</text>
<line x1="21.5" y1="347.97" x2="24.3" y2="347.97" stroke="#666" stroke-width="0.9"/>
<text transform="translate(18.9,349.97) scale(0.78,1)" class="tk" text-anchor="end">11</text>
<line x1="21.5" y1="330.04" x2="24.3" y2="330.04" stroke="#666" stroke-width="0.9"/>
<text transform="translate(18.9,332.04) scale(0.78,1)" class="tk" text-anchor="end">12</text>
<path d="M37 503h1v1h-1zM37 505h1v1h-1zM37 507h1v1h-1zM37 509h1v2h-1zM37 512h1v33h-1zM38 496h1v1h-1zM38 501h1v1h-1zM38 504h1v3h-1zM38 508h1v37h-1zM39 498h1v1h-1zM39 501h1v2h-1zM39 505h1v5h-1zM39 511h1v1h-1zM39 513h1v2h-1zM39 516h1v29h-1zM40 510h1v35h-1zM41 506h1v2h-1zM41 509h1v1h-1zM41 511h1v34h-1zM42 501h1v1h-1zM42 510h1v35h-1zM43 488h1v2h-1zM43 491h1v3h-1zM43 496h1v2h-1zM43 499h1v4h-1zM43 504h1v3h-1zM43 508h1v1h-1zM43 511h1v34h-1zM44 494h1v7h-1zM44 502h1v1h-1zM44 507h1v38h-1zM45 489h1v2h-1zM45 494h1v2h-1zM45 497h1v10h-1zM45 508h1v37h-1zM46 484h1v1h-1zM46 493h1v2h-1zM46 497h1v3h-1zM46 503h1v2h-1zM46 506h1v39h-1zM47 495h1v1h-1zM47 497h1v2h-1zM47 500h1v1h-1zM47 502h1v1h-1zM47 505h1v40h-1zM48 508h1v1h-1zM48 511h1v1h-1zM48 513h1v1h-1zM48 515h1v30h-1zM49 493h1v5h-1zM49 499h1v2h-1zM49 502h1v4h-1zM49 507h1v38h-1zM50 492h1v5h-1zM50 498h1v3h-1zM50 503h1v2h-1zM50 506h1v1h-1zM50 508h1v3h-1zM50 512h1v33h-1zM51 509h1v2h-1zM51 512h1v33h-1zM52 497h1v1h-1zM52 499h1v1h-1zM52 502h1v2h-1zM52 506h1v2h-1zM52 509h1v36h-1zM53 502h1v1h-1zM53 504h1v4h-1zM53 509h1v36h-1zM54 495h1v3h-1zM54 499h1v1h-1zM54 501h1v3h-1zM54 506h1v3h-1zM54 510h1v35h-1zM55 505h1v2h-1zM55 508h1v1h-1zM55 510h1v1h-1zM55 512h1v33h-1zM56 506h1v1h-1zM56 508h1v1h-1zM56 510h1v35h-1zM57 511h1v34h-1zM58 496h1v1h-1zM58 498h1v3h-1zM58 502h1v3h-1zM58 506h1v39h-1zM59 492h1v1h-1zM59 506h1v2h-1zM59 511h1v34h-1zM60 484h1v1h-1zM60 493h1v1h-1zM60 495h1v2h-1zM60 498h1v4h-1zM60 503h1v2h-1zM60 506h1v39h-1zM61 488h1v2h-1zM61 494h1v2h-1zM61 497h1v1h-1zM61 499h1v4h-1zM61 504h1v41h-1zM62 492h1v1h-1zM62 496h1v1h-1zM62 505h1v2h-1zM62 508h1v37h-1zM63 456h1v1h-1zM63 458h1v2h-1zM63 461h1v1h-1zM63 463h1v1h-1zM63 466h1v2h-1zM63 470h1v2h-1zM63 474h1v4h-1zM63 480h1v7h-1zM63 488h1v1h-1zM63 490h1v5h-1zM63 496h1v15h-1zM63 512h1v33h-1zM64 447h1v2h-1zM64 450h1v3h-1zM64 454h1v11h-1zM64 466h1v17h-1zM64 484h1v20h-1zM64 505h1v4h-1zM64 510h1v1h-1zM64 512h1v33h-1zM65 385h1v3h-1zM65 393h1v2h-1zM65 398h1v1h-1zM65 402h1v1h-1zM65 404h1v5h-1zM65 412h1v1h-1zM65 415h1v8h-1zM65 424h1v7h-1zM65 432h1v6h-1zM65 439h1v25h-1zM65 465h1v18h-1zM65 484h1v9h-1zM65 494h1v13h-1zM65 508h1v37h-1zM66 386h1v2h-1zM66 390h1v2h-1zM66 394h1v1h-1zM66 396h1v1h-1zM66 399h1v1h-1zM66 401h1v2h-1zM66 413h1v1h-1zM66 415h1v9h-1zM66 426h1v4h-1zM66 431h1v18h-1zM66 450h1v12h-1zM66 463h1v2h-1zM66 466h1v5h-1zM66 472h1v7h-1zM66 480h1v6h-1zM66 487h1v20h-1zM66 508h1v1h-1zM66 510h1v35h-1zM67 416h1v1h-1zM67 420h1v2h-1zM67 423h1v12h-1zM67 438h1v8h-1zM67 447h1v8h-1zM67 456h1v5h-1zM67 462h1v7h-1zM67 470h1v16h-1zM67 488h1v5h-1zM67 494h1v9h-1zM67 504h1v5h-1zM67 510h1v35h-1zM68 477h1v3h-1zM68 481h1v3h-1zM68 485h1v2h-1zM68 488h1v7h-1zM68 496h1v49h-1zM69 498h1v2h-1zM69 501h1v1h-1zM69 504h1v5h-1zM69 510h1v35h-1zM70 499h1v1h-1zM70 501h1v7h-1zM70 510h1v35h-1zM71 505h1v2h-1zM71 508h1v2h-1zM71 511h1v4h-1zM71 516h1v29h-1z" fill="#000080" shape-rendering="crispEdges"/>
<path d="M39.6 475.39h1.2v1.2h-1.2ZM41.9 479.16h1.2v1.2h-1.2ZM44.4 485.43h1.2v1.2h-1.2ZM45.9 478.26h1.2v1.2h-1.2ZM50.9 485.43h1.2v1.2h-1.2ZM59.4 482.74h1.2v1.2h-1.2ZM61.9 473.78h1.2v1.2h-1.2ZM65.6 325.5h1.2v1.2h-1.2ZM65.7 331.23h1.2v1.2h-1.2ZM65.5 336.61h1.2v1.2h-1.2ZM65.6 346.11h1.2v1.2h-1.2ZM65.7 349.16h1.2v1.2h-1.2ZM65.5 351.85h1.2v1.2h-1.2ZM65.6 354.54h1.2v1.2h-1.2ZM65.7 365.3h1.2v1.2h-1.2ZM65.6 368.89h1.2v1.2h-1.2ZM65.5 372.47h1.2v1.2h-1.2ZM65.6 380.18h1.2v1.2h-1.2Z" fill="#000080"/>
<text transform="translate(54.8,556) scale(0.78,1)" class="tk" text-anchor="middle">1</text>
<path d="M75 492h1v5h-1zM75 501h1v1h-1zM75 503h1v1h-1zM75 505h1v4h-1zM75 510h1v1h-1zM75 512h1v33h-1zM76 493h1v1h-1zM76 495h1v2h-1zM76 498h1v1h-1zM76 500h1v3h-1zM76 505h1v40h-1zM77 489h1v2h-1zM77 492h1v3h-1zM77 498h1v1h-1zM77 500h1v1h-1zM77 502h1v2h-1zM77 505h1v1h-1zM77 507h1v2h-1zM77 510h1v4h-1zM77 515h1v30h-1zM78 497h1v1h-1zM78 501h1v6h-1zM78 508h1v3h-1zM78 512h1v33h-1zM79 489h1v2h-1zM79 492h1v1h-1zM79 495h1v2h-1zM79 498h1v4h-1zM79 503h1v2h-1zM79 506h1v39h-1zM80 483h1v1h-1zM80 488h1v3h-1zM80 493h1v1h-1zM80 495h1v4h-1zM80 500h1v2h-1zM80 503h1v4h-1zM80 508h1v37h-1zM81 492h1v3h-1zM81 496h1v4h-1zM81 501h1v3h-1zM81 505h1v40h-1zM82 489h1v4h-1zM82 494h1v2h-1zM82 498h1v6h-1zM82 505h1v4h-1zM82 510h1v35h-1zM83 486h1v1h-1zM83 501h1v3h-1zM83 505h1v40h-1zM84 499h1v3h-1zM84 503h1v42h-1zM85 475h1v1h-1zM85 483h1v2h-1zM85 486h1v1h-1zM85 488h1v1h-1zM85 493h1v1h-1zM85 495h1v1h-1zM85 499h1v2h-1zM85 504h1v1h-1zM85 506h1v1h-1zM85 508h1v37h-1zM86 479h1v3h-1zM86 483h1v1h-1zM86 485h1v2h-1zM86 489h1v3h-1zM86 493h1v7h-1zM86 502h1v5h-1zM86 509h1v36h-1zM87 486h1v2h-1zM87 489h1v4h-1zM87 494h1v1h-1zM87 496h1v2h-1zM87 499h1v2h-1zM87 502h1v4h-1zM87 507h1v38h-1zM88 485h1v2h-1zM88 488h1v3h-1zM88 494h1v3h-1zM88 499h1v4h-1zM88 504h1v41h-1zM89 486h1v1h-1zM89 488h1v1h-1zM89 490h1v2h-1zM89 493h1v1h-1zM89 495h1v6h-1zM89 502h1v1h-1zM89 505h1v1h-1zM89 508h1v37h-1zM90 497h1v1h-1zM90 501h1v3h-1zM90 505h1v7h-1zM90 513h1v32h-1zM91 479h1v1h-1zM91 482h1v3h-1zM91 486h1v1h-1zM91 489h1v1h-1zM91 492h1v1h-1zM91 496h1v1h-1zM91 498h1v1h-1zM91 500h1v2h-1zM91 506h1v39h-1zM92 483h1v2h-1zM92 486h1v4h-1zM92 491h1v1h-1zM92 495h1v1h-1zM92 497h1v2h-1zM92 500h1v6h-1zM92 507h1v1h-1zM92 509h1v36h-1zM93 481h1v2h-1zM93 485h1v7h-1zM93 493h1v1h-1zM93 496h1v2h-1zM93 499h1v2h-1zM93 502h1v1h-1zM93 504h1v4h-1zM93 509h1v2h-1zM93 512h1v33h-1zM94 509h1v2h-1zM94 512h1v33h-1zM95 491h1v7h-1zM95 499h1v6h-1zM95 507h1v1h-1zM95 510h1v35h-1zM96 511h1v34h-1zM97 495h1v2h-1zM97 499h1v7h-1zM97 507h1v1h-1zM97 509h1v36h-1zM98 505h1v3h-1zM98 512h1v33h-1z" fill="#CD8500" shape-rendering="crispEdges"/>
<path d="M77.4 485.43h1.2v1.2h-1.2ZM80.9 472.88h1.2v1.2h-1.2ZM82.4 478.26h1.2v1.2h-1.2ZM91.4 481.85h1.2v1.2h-1.2Z" fill="#CD8500"/>
<text transform="translate(87.6,556) scale(0.78,1)" class="tk" text-anchor="middle">2</text>
<path d="M102 501h1v1h-1zM102 505h1v2h-1zM102 508h1v1h-1zM102 510h1v5h-1zM102 516h1v29h-1zM103 501h1v5h-1zM103 508h1v1h-1zM103 510h1v35h-1zM104 499h1v1h-1zM104 501h1v3h-1zM104 506h1v39h-1zM105 494h1v1h-1zM105 514h1v31h-1zM106 492h1v2h-1zM106 497h1v4h-1zM106 502h1v1h-1zM106 504h1v1h-1zM106 506h1v1h-1zM106 508h1v37h-1zM107 495h1v1h-1zM107 497h1v3h-1zM107 502h1v2h-1zM107 505h1v1h-1zM107 508h1v37h-1zM108 493h1v4h-1zM108 498h1v11h-1zM108 510h1v35h-1zM109 490h1v3h-1zM109 495h1v8h-1zM109 504h1v3h-1zM109 508h1v37h-1zM110 492h1v1h-1zM110 507h1v3h-1zM110 511h1v2h-1zM110 514h1v31h-1zM111 490h1v7h-1zM111 498h1v1h-1zM111 500h1v1h-1zM111 503h1v5h-1zM111 509h1v36h-1zM112 502h1v1h-1zM112 504h1v1h-1zM112 507h1v1h-1zM112 509h1v5h-1zM112 515h1v30h-1zM113 511h1v1h-1zM113 515h1v30h-1zM114 505h1v1h-1zM114 509h1v2h-1zM114 512h1v5h-1zM114 519h1v26h-1zM115 511h1v3h-1zM115 515h1v30h-1zM116 513h1v32h-1zM117 509h1v2h-1zM117 512h1v33h-1zM118 511h1v34h-1zM119 491h1v2h-1zM119 495h1v1h-1zM119 498h1v1h-1zM119 501h1v1h-1zM119 503h1v42h-1zM120 490h1v1h-1zM120 495h1v1h-1zM120 513h1v32h-1zM121 495h1v1h-1zM121 498h1v1h-1zM121 501h1v3h-1zM121 505h1v5h-1zM121 511h1v34h-1zM122 494h1v1h-1zM122 513h1v32h-1z" fill="#000080" shape-rendering="crispEdges"/>
<path d="M102.9 489.02h1.2v1.2h-1.2ZM102.6 496.19h1.2v1.2h-1.2ZM109.4 478.08h1.2v1.2h-1.2ZM108.4 487.22h1.2v1.2h-1.2ZM121 481.85h1.2v1.2h-1.2ZM119.4 489.02h1.2v1.2h-1.2Z" fill="#000080"/>
<text transform="translate(113.3,556) scale(0.78,1)" class="tk" text-anchor="middle">3</text>
<path d="M127 501h1v3h-1zM127 506h1v2h-1zM127 509h1v4h-1zM127 515h1v30h-1zM128 498h1v1h-1zM128 507h1v1h-1zM128 509h1v2h-1zM128 513h1v2h-1zM128 516h1v29h-1zM129 497h1v1h-1zM129 500h1v2h-1zM129 504h1v3h-1zM129 509h1v2h-1zM129 512h1v33h-1zM130 495h1v1h-1zM130 497h1v2h-1zM130 506h1v6h-1zM130 513h1v32h-1zM131 512h1v33h-1zM132 500h1v2h-1zM132 505h1v6h-1zM132 512h1v1h-1zM132 515h1v30h-1zM133 495h1v1h-1zM133 497h1v1h-1zM133 500h1v2h-1zM133 503h1v2h-1zM133 507h1v1h-1zM133 509h1v2h-1zM133 512h1v33h-1zM134 495h1v1h-1zM134 498h1v4h-1zM134 503h1v42h-1zM135 498h1v1h-1zM135 500h1v1h-1zM135 502h1v2h-1zM135 506h1v5h-1zM135 512h1v1h-1zM135 514h1v31h-1zM136 512h1v1h-1zM136 515h1v30h-1zM137 492h1v5h-1zM137 498h1v4h-1zM137 503h1v9h-1zM137 513h1v32h-1zM138 472h1v3h-1zM138 476h1v3h-1zM138 480h1v3h-1zM138 487h1v5h-1zM138 493h1v12h-1zM138 507h1v38h-1zM139 475h1v1h-1zM139 477h1v2h-1zM139 485h1v22h-1zM139 508h1v2h-1zM139 511h1v34h-1zM140 472h1v1h-1zM140 474h1v1h-1zM140 479h1v1h-1zM140 482h1v8h-1zM140 491h1v5h-1zM140 497h1v1h-1zM140 499h1v9h-1zM140 509h1v1h-1zM140 512h1v33h-1zM141 479h1v1h-1zM141 486h1v1h-1zM141 488h1v1h-1zM141 491h1v4h-1zM141 497h1v5h-1zM141 504h1v1h-1zM141 506h1v1h-1zM141 508h1v37h-1zM142 497h1v1h-1zM142 501h1v2h-1zM142 505h1v2h-1zM142 508h1v37h-1z" fill="#CD8500" shape-rendering="crispEdges"/>
<path d="M139.4 419.09h1.2v1.2h-1.2ZM139.4 421.96h1.2v1.2h-1.2ZM139.4 426.26h1.2v1.2h-1.2ZM139.4 430.39h1.2v1.2h-1.2ZM139.4 435.23h1.2v1.2h-1.2ZM139.4 444.01h1.2v1.2h-1.2ZM139.4 452.44h1.2v1.2h-1.2ZM139.4 456.38h1.2v1.2h-1.2ZM139.4 460.51h1.2v1.2h-1.2ZM139.4 468.22h1.2v1.2h-1.2ZM133.4 494.4h1.2v1.2h-1.2Z" fill="#CD8500"/>
<text transform="translate(135.5,556) scale(0.78,1)" class="tk" text-anchor="middle">4</text>
<path d="M147 503h1v1h-1zM147 506h1v39h-1zM148 506h1v39h-1zM149 483h1v2h-1zM149 486h1v3h-1zM149 490h1v5h-1zM149 497h1v8h-1zM149 506h1v39h-1zM150 483h1v1h-1zM150 486h1v3h-1zM150 492h1v2h-1zM150 495h1v2h-1zM150 499h1v1h-1zM150 501h1v6h-1zM150 508h1v37h-1zM151 502h1v1h-1zM151 504h1v1h-1zM151 508h1v3h-1zM151 512h1v1h-1zM151 514h1v31h-1zM152 510h1v1h-1zM152 512h1v33h-1zM153 516h1v29h-1zM154 508h1v3h-1zM154 512h1v2h-1zM154 515h1v30h-1zM155 506h1v8h-1zM155 515h1v30h-1zM156 512h1v33h-1zM157 516h1v29h-1z" fill="#000080" shape-rendering="crispEdges"/>
<path d="M155.9 489.02h1.2v1.2h-1.2ZM156.2 501.57h1.2v1.2h-1.2Z" fill="#000080"/>
<text transform="translate(152.8,556) scale(0.78,1)" class="tk" text-anchor="middle">5</text>
<path d="M161 499h1v2h-1zM161 503h1v1h-1zM161 505h1v40h-1zM162 478h1v2h-1zM162 481h1v1h-1zM162 483h1v9h-1zM162 493h1v15h-1zM162 509h1v36h-1zM163 479h1v1h-1zM163 482h1v3h-1zM163 487h1v19h-1zM163 507h1v1h-1zM163 509h1v36h-1zM164 493h1v3h-1zM164 497h1v1h-1zM164 499h1v3h-1zM164 503h1v1h-1zM164 505h1v3h-1zM164 509h1v36h-1zM165 504h1v3h-1zM165 509h1v36h-1zM166 502h1v1h-1zM166 506h1v1h-1zM166 508h1v1h-1zM166 510h1v35h-1zM167 503h1v4h-1zM167 508h1v1h-1zM167 512h1v33h-1zM168 504h1v3h-1zM168 509h1v36h-1zM169 507h1v1h-1zM169 509h1v3h-1zM169 513h1v1h-1zM169 515h1v1h-1zM169 517h1v28h-1z" fill="#CD8500" shape-rendering="crispEdges"/>
<text transform="translate(166.3,556) scale(0.78,1)" class="tk" text-anchor="middle">6</text>
<path d="M174 498h1v2h-1zM174 501h1v1h-1zM174 503h1v1h-1zM174 505h1v40h-1zM175 473h1v1h-1zM175 481h1v2h-1zM175 487h1v4h-1zM175 492h1v2h-1zM175 495h1v7h-1zM175 503h1v42h-1zM176 473h1v2h-1zM176 480h1v4h-1zM176 485h1v2h-1zM176 489h1v10h-1zM176 500h1v6h-1zM176 507h1v38h-1zM177 485h1v1h-1zM177 498h1v3h-1zM177 502h1v1h-1zM177 506h1v39h-1zM178 484h1v1h-1zM178 487h1v1h-1zM178 489h1v1h-1zM178 491h1v2h-1zM178 494h1v1h-1zM178 496h1v4h-1zM178 501h1v44h-1zM179 493h1v1h-1zM179 497h1v1h-1zM179 500h1v1h-1zM179 503h1v42h-1zM180 484h1v1h-1zM180 501h1v2h-1zM180 504h1v4h-1zM180 509h1v36h-1zM181 498h1v4h-1zM181 503h1v1h-1zM181 507h1v4h-1zM181 512h1v33h-1z" fill="#000080" shape-rendering="crispEdges"/>
<path d="M175.2 444.91h1.2v1.2h-1.2ZM175.2 447.78h1.2v1.2h-1.2ZM175.2 451.36h1.2v1.2h-1.2ZM175.2 460.15h1.2v1.2h-1.2ZM175.2 463.92h1.2v1.2h-1.2ZM175.2 469.29h1.2v1.2h-1.2ZM177.4 481.85h1.2v1.2h-1.2Z" fill="#000080"/>
<text transform="translate(178.75,556) scale(0.78,1)" class="tk" text-anchor="middle">7</text>
<path d="M186 503h1v2h-1zM186 506h1v39h-1zM187 501h1v2h-1zM187 504h1v3h-1zM187 509h1v36h-1zM188 505h1v1h-1zM188 507h1v1h-1zM188 510h1v1h-1zM188 512h1v33h-1zM189 498h1v4h-1zM189 503h1v2h-1zM189 506h1v1h-1zM189 508h1v37h-1zM190 510h1v35h-1zM191 500h1v1h-1zM191 503h1v2h-1zM191 507h1v3h-1zM191 511h1v1h-1zM191 513h1v1h-1zM191 515h1v30h-1zM192 502h1v1h-1zM192 505h1v1h-1zM192 508h1v2h-1zM192 511h1v1h-1zM192 513h1v32h-1z" fill="#CD8500" shape-rendering="crispEdges"/>
<path d="M188.9 485.43h1.2v1.2h-1.2ZM189.4 488.12h1.2v1.2h-1.2Z" fill="#CD8500"/>
<text transform="translate(190.2,556) scale(0.78,1)" class="tk" text-anchor="middle">8</text>
<path d="M197 492h1v3h-1zM197 498h1v1h-1zM197 500h1v2h-1zM197 504h1v41h-1zM198 487h1v2h-1zM198 490h1v1h-1zM198 492h1v1h-1zM198 502h1v3h-1zM198 506h1v4h-1zM198 511h1v34h-1zM199 512h1v33h-1zM200 505h1v40h-1zM201 501h1v3h-1zM201 505h1v2h-1zM201 508h1v37h-1zM202 494h1v4h-1zM202 500h1v2h-1zM202 503h1v42h-1zM203 507h1v2h-1zM203 510h1v4h-1zM203 515h1v30h-1z" fill="#000080" shape-rendering="crispEdges"/>
<path d="M200.4 479.33h1.2v1.2h-1.2ZM197.4 489.02h1.2v1.2h-1.2Z" fill="#000080"/>
<text transform="translate(200.7,556) scale(0.78,1)" class="tk" text-anchor="middle">9</text>
<path d="M207 486h1v59h-1zM208 486h1v1h-1zM208 488h1v3h-1zM208 493h1v10h-1zM208 504h1v41h-1zM209 500h1v1h-1zM209 504h1v4h-1zM209 512h1v33h-1zM210 506h1v2h-1zM210 509h1v4h-1zM210 514h1v31h-1zM211 505h1v40h-1zM212 496h1v5h-1zM212 503h1v9h-1zM212 513h1v32h-1zM213 511h1v34h-1zM214 490h1v2h-1zM214 496h1v3h-1zM214 500h1v4h-1zM214 505h1v8h-1zM214 514h1v31h-1z" fill="#CD8500" shape-rendering="crispEdges"/>
<path d="M207.9 458.89h1.2v1.2h-1.2ZM207.9 468.4h1.2v1.2h-1.2ZM212.4 483.64h1.2v1.2h-1.2ZM212.9 486.33h1.2v1.2h-1.2Z" fill="#CD8500"/>
<text transform="translate(211.8,556) scale(0.78,1)" class="tk" text-anchor="middle">10</text>
<path d="M218 494h1v2h-1zM218 497h1v4h-1zM218 502h1v2h-1zM218 505h1v40h-1zM219 489h1v2h-1zM219 492h1v2h-1zM219 495h1v13h-1zM219 509h1v36h-1zM220 507h1v38h-1zM221 492h1v1h-1zM221 495h1v2h-1zM221 498h1v1h-1zM221 503h1v1h-1zM221 505h1v40h-1zM222 501h1v1h-1zM222 509h1v1h-1zM222 511h1v34h-1zM223 508h1v2h-1zM223 511h1v34h-1z" fill="#000080" shape-rendering="crispEdges"/>
<path d="M222.7 489.02h1.2v1.2h-1.2ZM222.9 495.29h1.2v1.2h-1.2Z" fill="#000080"/>
<text transform="translate(221.8,556) scale(0.78,1)" class="tk" text-anchor="middle">11</text>
<path d="M228 488h1v1h-1zM228 499h1v5h-1zM228 505h1v1h-1zM228 507h1v38h-1zM229 482h1v1h-1zM229 484h1v1h-1zM229 486h1v2h-1zM229 489h1v2h-1zM229 495h1v4h-1zM229 500h1v4h-1zM229 505h1v4h-1zM229 510h1v35h-1zM230 498h1v1h-1zM230 502h1v1h-1zM230 504h1v2h-1zM230 507h1v2h-1zM230 510h1v35h-1zM231 498h1v2h-1zM231 502h1v1h-1zM231 504h1v4h-1zM231 510h1v1h-1zM231 512h1v33h-1zM232 510h1v1h-1zM232 512h1v1h-1zM232 514h1v31h-1zM233 507h1v2h-1zM233 510h1v2h-1zM233 513h1v32h-1z" fill="#CD8500" shape-rendering="crispEdges"/>
<path d="M232.4 506.95h1.2v1.2h-1.2ZM232.3 511.43h1.2v1.2h-1.2Z" fill="#CD8500"/>
<text transform="translate(231.5,556) scale(0.78,1)" class="tk" text-anchor="middle">12</text>
<path d="M237 509h1v1h-1zM237 513h1v3h-1zM237 517h1v28h-1zM238 512h1v33h-1zM239 508h1v3h-1zM239 512h1v33h-1zM240 514h1v31h-1zM241 512h1v33h-1z" fill="#000080" shape-rendering="crispEdges"/>
<path d="M237.7 499.78h1.2v1.2h-1.2Z" fill="#000080"/>
<text transform="translate(240.2,556) scale(0.78,1)" class="tk" text-anchor="middle">13</text>
<path d="M246 507h1v2h-1zM246 511h1v34h-1zM247 505h1v1h-1zM247 509h1v1h-1zM247 512h1v33h-1zM248 485h1v1h-1zM248 488h1v1h-1zM248 490h1v2h-1zM248 494h1v14h-1zM248 510h1v35h-1zM249 480h1v2h-1zM249 483h1v1h-1zM249 485h1v1h-1zM249 487h1v1h-1zM249 489h1v1h-1zM249 491h1v1h-1zM249 493h1v1h-1zM249 497h1v16h-1zM249 514h1v31h-1zM250 501h1v4h-1zM250 506h1v39h-1z" fill="#CD8500" shape-rendering="crispEdges"/>
<path d="M248.7 447.6h1.2v1.2h-1.2ZM248.7 452.08h1.2v1.2h-1.2ZM248.7 456.56h1.2v1.2h-1.2ZM248.7 462.12h1.2v1.2h-1.2ZM248.7 469.83h1.2v1.2h-1.2ZM248.7 476.11h1.2v1.2h-1.2Z" fill="#CD8500"/>
<text transform="translate(249.2,556) scale(0.78,1)" class="tk" text-anchor="middle">14</text>
<path d="M255 494h1v1h-1zM255 497h1v1h-1zM255 500h1v1h-1zM255 502h1v4h-1zM255 507h1v38h-1zM256 491h1v2h-1zM256 494h1v1h-1zM256 496h1v3h-1zM256 500h1v2h-1zM256 504h1v41h-1zM257 491h1v1h-1zM257 499h1v1h-1zM257 501h1v4h-1zM257 506h1v1h-1zM257 508h1v2h-1zM257 511h1v34h-1zM258 506h1v4h-1zM258 512h1v33h-1zM259 493h1v1h-1zM259 508h1v37h-1z" fill="#000080" shape-rendering="crispEdges"/>
<path d="M258.2 489.02h1.2v1.2h-1.2Z" fill="#000080"/>
<text transform="translate(257.85,556) scale(0.78,1)" class="tk" text-anchor="middle">15</text>
<path d="M263 509h1v3h-1zM263 513h1v3h-1zM263 517h1v28h-1z" fill="#CD8500" shape-rendering="crispEdges"/>
<path d="M262.8 506.95h1.2v1.2h-1.2Z" fill="#CD8500"/>
<text transform="translate(264,556) scale(0.78,1)" class="tk" text-anchor="middle">16</text>
<path d="M268 488h1v1h-1zM268 492h1v1h-1zM268 494h1v1h-1zM268 496h1v4h-1zM268 501h1v8h-1zM268 510h1v35h-1zM269 489h1v1h-1zM269 492h1v53h-1zM270 497h1v4h-1zM270 502h1v43h-1zM271 498h1v3h-1zM271 502h1v1h-1zM271 504h1v41h-1z" fill="#000080" shape-rendering="crispEdges"/>
<path d="M268.4 481.85h1.2v1.2h-1.2ZM268.4 484.53h1.2v1.2h-1.2ZM268.4 489.91h1.2v1.2h-1.2Z" fill="#000080"/>
<text transform="translate(270.45,556) scale(0.78,1)" class="tk" text-anchor="middle">17</text>
<path d="M275 510h1v2h-1zM275 513h1v32h-1zM276 492h1v1h-1zM276 494h1v12h-1zM276 507h1v1h-1zM276 510h1v35h-1zM277 495h1v1h-1zM277 497h1v3h-1zM277 501h1v10h-1zM277 512h1v33h-1zM278 495h1v1h-1zM278 498h1v1h-1zM278 500h1v3h-1zM278 505h1v40h-1zM279 501h1v1h-1zM279 507h1v38h-1z" fill="#CD8500" shape-rendering="crispEdges"/>
<text transform="translate(278.3,556) scale(0.78,1)" class="tk" text-anchor="middle">18</text>
<path d="M283 501h1v2h-1zM283 504h1v1h-1zM283 507h1v2h-1zM283 510h1v2h-1zM283 513h1v32h-1zM284 488h1v1h-1zM284 495h1v3h-1zM284 500h1v2h-1zM284 505h1v3h-1zM284 509h1v36h-1zM285 496h1v1h-1zM285 499h1v2h-1zM285 504h1v3h-1zM285 508h1v37h-1zM286 496h1v1h-1zM286 501h1v8h-1zM286 510h1v35h-1zM287 513h1v32h-1z" fill="#000080" shape-rendering="crispEdges"/>
<path d="M283.9 489.91h1.2v1.2h-1.2Z" fill="#000080"/>
<text transform="translate(285.85,556) scale(0.78,1)" class="tk" text-anchor="middle">19</text>
<path d="M291 495h1v1h-1zM291 499h1v2h-1zM291 502h1v6h-1zM291 509h1v36h-1zM292 489h1v3h-1zM292 493h1v2h-1zM292 498h1v1h-1zM292 500h1v5h-1zM292 506h1v1h-1zM292 508h1v37h-1zM293 500h1v1h-1zM293 503h1v2h-1zM293 506h1v39h-1zM294 494h1v1h-1zM294 504h1v1h-1zM294 507h1v1h-1zM294 509h1v36h-1zM295 501h1v1h-1zM295 507h1v3h-1zM295 512h1v33h-1z" fill="#CD8500" shape-rendering="crispEdges"/>
<path d="M291.9 489.38h1.2v1.2h-1.2Z" fill="#CD8500"/>
<text transform="translate(293.8,556) scale(0.78,1)" class="tk" text-anchor="middle">20</text>
<path d="M299 505h1v2h-1zM299 509h1v36h-1zM300 505h1v40h-1zM301 502h1v1h-1zM301 512h1v1h-1zM301 514h1v31h-1zM302 505h1v1h-1zM302 508h1v3h-1zM302 512h1v1h-1zM302 514h1v31h-1z" fill="#000080" shape-rendering="crispEdges"/>
<text transform="translate(301.3,556) scale(0.78,1)" class="tk" text-anchor="middle">21</text>
<path d="M306 500h1v1h-1zM306 505h1v1h-1zM306 507h1v4h-1zM306 513h1v1h-1zM306 515h1v30h-1zM307 502h1v1h-1zM307 509h1v1h-1zM307 511h1v34h-1zM308 515h1v1h-1zM308 517h1v28h-1z" fill="#CD8500" shape-rendering="crispEdges"/>
<path d="M306.5 488.12h1.2v1.2h-1.2ZM306.4 492.6h1.2v1.2h-1.2Z" fill="#CD8500"/>
<text transform="translate(307.8,556) scale(0.78,1)" class="tk" text-anchor="middle">22</text>
<path d="M312 508h1v1h-1zM312 510h1v1h-1zM312 512h1v33h-1zM313 500h1v1h-1zM313 503h1v4h-1zM313 508h1v37h-1zM314 505h1v1h-1zM314 508h1v37h-1zM315 500h1v1h-1zM315 510h1v3h-1zM315 515h1v30h-1z" fill="#000080" shape-rendering="crispEdges"/>
<path d="M313.7 499.78h1.2v1.2h-1.2Z" fill="#000080"/>
<text transform="translate(314.4,556) scale(0.78,1)" class="tk" text-anchor="middle">23</text>
<path d="M319 508h1v1h-1zM319 510h1v1h-1zM319 513h1v2h-1zM319 516h1v29h-1zM320 506h1v1h-1zM320 509h1v8h-1zM320 518h1v27h-1zM321 501h1v1h-1zM321 508h1v1h-1zM321 516h1v29h-1zM322 508h1v3h-1zM322 512h1v1h-1zM322 516h1v3h-1zM322 520h1v25h-1z" fill="#CD8500" shape-rendering="crispEdges"/>
<text transform="translate(321.4,556) scale(0.78,1)" class="tk" text-anchor="middle">24</text>
<path d="M326 503h1v1h-1zM326 512h1v33h-1zM327 499h1v1h-1zM327 502h1v2h-1zM327 508h1v1h-1zM327 510h1v1h-1zM327 512h1v33h-1z" fill="#000080" shape-rendering="crispEdges"/>
<path d="M326.4 481.85h1.2v1.2h-1.2ZM326.4 493.5h1.2v1.2h-1.2ZM326.4 499.78h1.2v1.2h-1.2Z" fill="#000080"/>
<text transform="translate(327.55,556) scale(0.78,1)" class="tk" text-anchor="middle">25</text>
<path d="M331 506h1v2h-1zM331 509h1v1h-1zM331 511h1v1h-1zM331 513h1v32h-1zM332 516h1v29h-1zM333 499h1v2h-1zM333 502h1v5h-1zM333 508h1v37h-1zM334 502h1v1h-1zM334 504h1v1h-1zM334 506h1v2h-1zM334 509h1v1h-1zM334 511h1v34h-1z" fill="#CD8500" shape-rendering="crispEdges"/>
<path d="M332.4 492.6h1.2v1.2h-1.2Z" fill="#CD8500"/>
<text transform="translate(333.5,556) scale(0.78,1)" class="tk" text-anchor="middle">26</text>
<path d="M338 475h1v4h-1zM338 481h1v2h-1zM338 485h1v1h-1zM338 489h1v11h-1zM338 501h1v44h-1zM339 476h1v1h-1zM339 478h1v1h-1zM339 480h1v1h-1zM339 482h1v6h-1zM339 489h1v2h-1zM339 492h1v7h-1zM339 500h1v45h-1zM340 496h1v1h-1zM340 499h1v1h-1zM340 501h1v1h-1zM340 504h1v41h-1z" fill="#000080" shape-rendering="crispEdges"/>
<path d="M338.8 386.82h1.2v1.2h-1.2ZM338.8 388.25h1.2v1.2h-1.2ZM338.8 397.39h1.2v1.2h-1.2ZM338.7 420.35h1.2v1.2h-1.2ZM338.7 430.92h1.2v1.2h-1.2ZM338.7 444.91h1.2v1.2h-1.2ZM338.7 455.13h1.2v1.2h-1.2ZM338.7 458.54h1.2v1.2h-1.2ZM338.7 462.66h1.2v1.2h-1.2ZM338.7 465.71h1.2v1.2h-1.2ZM338.7 469.29h1.2v1.2h-1.2ZM338.7 475.57h1.2v1.2h-1.2ZM338.7 479.33h1.2v1.2h-1.2Z" fill="#000080"/>
<text transform="translate(340.05,556) scale(0.78,1)" class="tk" text-anchor="middle">27</text>
<path d="M344 516h1v29h-1zM345 511h1v2h-1zM345 515h1v1h-1zM345 517h1v28h-1zM346 506h1v6h-1zM346 515h1v30h-1z" fill="#CD8500" shape-rendering="crispEdges"/>
<path d="M344.7 491.35h1.2v1.2h-1.2Z" fill="#CD8500"/>
<text transform="translate(346.35,556) scale(0.78,1)" class="tk" text-anchor="middle">28</text>
<path d="M350 516h1v29h-1zM351 513h1v32h-1z" fill="#000080" shape-rendering="crispEdges"/>
<text transform="translate(352.85,551.15) rotate(-90)" class="tr" text-anchor="end">LGE22</text>
<path d="M355 517h1v1h-1zM355 526h1v19h-1zM356 517h1v1h-1zM356 521h1v2h-1zM356 524h1v21h-1z" fill="#CD8500" shape-rendering="crispEdges"/>
<path d="M355.4 513.76h1.2v1.2h-1.2Z" fill="#CD8500"/>
<text transform="translate(357.8,551.15) rotate(-90)" class="tr" text-anchor="end">LGE64</text>
<line x1="24.3" y1="436.3" x2="368.9" y2="436.3" stroke="#555" stroke-width="1"/>
<line x1="24.3" y1="459.3" x2="368.9" y2="459.3" stroke="#9de49d" stroke-width="1"/>
<text x="196.5" y="573" class="ax" text-anchor="middle">Chromosome</text>
<text transform="translate(7.2,437.6) rotate(-90) scale(0.93,1)" class="ax" text-anchor="middle">-log<tspan font-size="4.5" dy="1.5">10</tspan><tspan dy="-1.5">(</tspan><tspan font-style="italic">P − value</tspan>)</text>
<text transform="translate(32.4,319.3) scale(0.83,1)" class="lab">B</text>
<line x1="27.9" y1="827.1" x2="27.9" y2="603.8" stroke="#777" stroke-width="1"/>
<line x1="25.099999999999998" y1="827.1" x2="27.9" y2="827.1" stroke="#666" stroke-width="0.9"/>
<text transform="translate(22.5,829.1) scale(0.78,1)" class="tk" text-anchor="end">0</text>
<line x1="25.099999999999998" y1="811.15" x2="27.9" y2="811.15" stroke="#666" stroke-width="0.9"/>
<text transform="translate(22.5,813.15) scale(0.78,1)" class="tk" text-anchor="end">1</text>
<line x1="25.099999999999998" y1="795.2" x2="27.9" y2="795.2" stroke="#666" stroke-width="0.9"/>
<text transform="translate(22.5,797.2) scale(0.78,1)" class="tk" text-anchor="end">2</text>
<line x1="25.099999999999998" y1="779.25" x2="27.9" y2="779.25" stroke="#666" stroke-width="0.9"/>
<text transform="translate(22.5,781.25) scale(0.78,1)" class="tk" text-anchor="end">3</text>
<line x1="25.099999999999998" y1="763.3" x2="27.9" y2="763.3" stroke="#666" stroke-width="0.9"/>
<text transform="translate(22.5,765.3) scale(0.78,1)" class="tk" text-anchor="end">4</text>
<line x1="25.099999999999998" y1="747.35" x2="27.9" y2="747.35" stroke="#666" stroke-width="0.9"/>
<text transform="translate(22.5,749.35) scale(0.78,1)" class="tk" text-anchor="end">5</text>
<line x1="25.099999999999998" y1="731.4" x2="27.9" y2="731.4" stroke="#666" stroke-width="0.9"/>
<text transform="translate(22.5,733.4) scale(0.78,1)" class="tk" text-anchor="end">6</text>
<line x1="25.099999999999998" y1="715.45" x2="27.9" y2="715.45" stroke="#666" stroke-width="0.9"/>
<text transform="translate(22.5,717.45) scale(0.78,1)" class="tk" text-anchor="end">7</text>
<line x1="25.099999999999998" y1="699.5" x2="27.9" y2="699.5" stroke="#666" stroke-width="0.9"/>
<text transform="translate(22.5,701.5) scale(0.78,1)" class="tk" text-anchor="end">8</text>
<line x1="25.099999999999998" y1="683.55" x2="27.9" y2="683.55" stroke="#666" stroke-width="0.9"/>
<text transform="translate(22.5,685.55) scale(0.78,1)" class="tk" text-anchor="end">9</text>
<line x1="25.099999999999998" y1="667.6" x2="27.9" y2="667.6" stroke="#666" stroke-width="0.9"/>
<text transform="translate(22.5,669.6) scale(0.78,1)" class="tk" text-anchor="end">10</text>
<line x1="25.099999999999998" y1="651.65" x2="27.9" y2="651.65" stroke="#666" stroke-width="0.9"/>
<text transform="translate(22.5,653.65) scale(0.78,1)" class="tk" text-anchor="end">11</text>
<line x1="25.099999999999998" y1="635.7" x2="27.9" y2="635.7" stroke="#666" stroke-width="0.9"/>
<text transform="translate(22.5,637.7) scale(0.78,1)" class="tk" text-anchor="end">12</text>
<line x1="25.099999999999998" y1="619.75" x2="27.9" y2="619.75" stroke="#666" stroke-width="0.9"/>
<text transform="translate(22.5,621.75) scale(0.78,1)" class="tk" text-anchor="end">13</text>
<line x1="25.099999999999998" y1="603.8" x2="27.9" y2="603.8" stroke="#666" stroke-width="0.9"/>
<text transform="translate(22.5,605.8) scale(0.78,1)" class="tk" text-anchor="end">14</text>
<path d="M41 800h1v1h-1zM41 802h1v25h-1zM42 800h1v2h-1zM42 804h1v23h-1zM43 791h1v2h-1zM43 796h1v1h-1zM43 798h1v29h-1zM44 789h1v1h-1zM44 792h1v1h-1zM44 795h1v1h-1zM44 797h1v2h-1zM44 803h1v24h-1zM45 794h1v1h-1zM45 797h1v30h-1zM46 795h1v32h-1zM47 795h1v1h-1zM47 797h1v4h-1zM47 802h1v25h-1zM48 792h1v2h-1zM48 795h1v32h-1zM49 800h1v1h-1zM49 802h1v25h-1zM50 790h1v2h-1zM50 793h1v9h-1zM50 803h1v24h-1zM51 779h1v2h-1zM51 783h1v1h-1zM51 797h1v3h-1zM51 801h1v26h-1zM52 787h1v5h-1zM52 793h1v4h-1zM52 798h1v2h-1zM52 801h1v26h-1zM53 784h1v1h-1zM53 786h1v12h-1zM53 799h1v28h-1zM54 799h1v28h-1zM55 784h1v1h-1zM55 787h1v2h-1zM55 791h1v4h-1zM55 796h1v1h-1zM55 798h1v1h-1zM55 800h1v27h-1zM56 780h1v1h-1zM56 782h1v3h-1zM56 787h1v1h-1zM56 791h1v2h-1zM56 794h1v6h-1zM56 801h1v26h-1zM57 799h1v2h-1zM57 802h1v25h-1zM58 801h1v26h-1zM59 797h1v2h-1zM59 800h1v27h-1zM60 792h1v1h-1zM60 794h1v2h-1zM60 797h1v4h-1zM60 803h1v24h-1zM61 798h1v1h-1zM61 800h1v3h-1zM61 804h1v23h-1zM62 795h1v3h-1zM62 800h1v27h-1zM63 800h1v27h-1zM64 785h1v1h-1zM64 801h1v26h-1zM65 791h1v5h-1zM65 798h1v29h-1zM66 783h1v1h-1zM66 789h1v9h-1zM66 799h1v2h-1zM66 802h1v25h-1zM67 801h1v26h-1zM68 759h1v6h-1zM68 766h1v19h-1zM68 786h1v10h-1zM68 797h1v30h-1zM69 684h1v3h-1zM69 688h1v2h-1zM69 691h1v1h-1zM69 693h1v2h-1zM69 696h1v38h-1zM69 735h1v4h-1zM69 740h1v9h-1zM69 750h1v5h-1zM69 756h1v11h-1zM69 768h1v5h-1zM69 775h1v2h-1zM69 778h1v1h-1zM69 780h1v9h-1zM69 790h1v37h-1zM70 594h1v1h-1zM70 599h1v5h-1zM70 606h1v1h-1zM70 609h1v1h-1zM70 613h1v1h-1zM70 616h1v16h-1zM70 633h1v7h-1zM70 641h1v2h-1zM70 644h1v25h-1zM70 671h1v7h-1zM70 679h1v2h-1zM70 682h1v6h-1zM70 689h1v3h-1zM70 693h1v11h-1zM70 705h1v10h-1zM70 717h1v11h-1zM70 729h1v4h-1zM70 734h1v1h-1zM70 736h1v1h-1zM70 740h1v11h-1zM70 752h1v5h-1zM70 758h1v5h-1zM70 764h1v1h-1zM70 766h1v6h-1zM70 774h1v6h-1zM70 781h1v3h-1zM70 785h1v10h-1zM70 796h1v1h-1zM70 798h1v1h-1zM70 800h1v27h-1zM71 595h1v3h-1zM71 599h1v1h-1zM71 601h1v2h-1zM71 604h1v1h-1zM71 606h1v3h-1zM71 610h1v3h-1zM71 614h1v13h-1zM71 628h1v9h-1zM71 638h1v10h-1zM71 650h1v11h-1zM71 662h1v1h-1zM71 664h1v4h-1zM71 669h1v1h-1zM71 671h1v8h-1zM71 680h1v5h-1zM71 688h1v16h-1zM71 705h1v3h-1zM71 709h1v5h-1zM71 715h1v21h-1zM71 737h1v7h-1zM71 745h1v2h-1zM71 750h1v16h-1zM71 767h1v27h-1zM71 795h1v2h-1zM71 798h1v2h-1zM71 802h1v25h-1zM72 686h1v3h-1zM72 690h1v1h-1zM72 693h1v7h-1zM72 701h1v5h-1zM72 707h1v7h-1zM72 715h1v3h-1zM72 719h1v7h-1zM72 727h1v1h-1zM72 729h1v31h-1zM72 761h1v1h-1zM72 763h1v1h-1zM72 765h1v1h-1zM72 767h1v2h-1zM72 770h1v4h-1zM72 775h1v52h-1zM73 778h1v3h-1zM73 785h1v4h-1zM73 790h1v6h-1zM73 797h1v30h-1zM74 794h1v7h-1zM74 804h1v23h-1zM75 787h1v1h-1zM75 800h1v1h-1zM75 802h1v25h-1zM76 793h1v1h-1zM76 796h1v4h-1zM76 802h1v25h-1z" fill="#000080" shape-rendering="crispEdges"/>
<path d="M40.9 768.44h1.2v1.2h-1.2ZM54.4 775.46h1.2v1.2h-1.2ZM66.4 761.9h1.2v1.2h-1.2ZM75.8 786.62h1.2v1.2h-1.2Z" fill="#000080"/>
<text transform="translate(59.35,838.2) scale(0.78,1)" class="tk" text-anchor="middle">1</text>
<path d="M81 785h1v1h-1zM81 788h1v3h-1zM81 792h1v2h-1zM81 795h1v32h-1zM82 793h1v5h-1zM82 799h1v2h-1zM82 802h1v25h-1zM83 795h1v32h-1zM84 783h1v1h-1zM84 798h1v29h-1zM85 787h1v2h-1zM85 791h1v1h-1zM85 793h1v1h-1zM85 796h1v3h-1zM85 800h1v27h-1zM86 792h1v1h-1zM86 795h1v32h-1zM87 793h1v3h-1zM87 797h1v1h-1zM87 799h1v28h-1zM88 770h1v2h-1zM88 778h1v3h-1zM88 784h1v12h-1zM88 797h1v3h-1zM88 801h1v26h-1zM89 785h1v2h-1zM89 791h1v1h-1zM89 793h1v34h-1zM90 792h1v1h-1zM90 795h1v2h-1zM90 798h1v29h-1zM91 780h1v1h-1zM91 784h1v2h-1zM91 787h1v1h-1zM91 790h1v1h-1zM91 792h1v35h-1zM92 780h1v1h-1zM92 784h1v1h-1zM92 786h1v1h-1zM92 788h1v8h-1zM92 797h1v30h-1zM93 782h1v1h-1zM93 784h1v1h-1zM93 788h1v9h-1zM93 798h1v1h-1zM93 800h1v27h-1zM94 783h1v1h-1zM94 785h1v1h-1zM94 787h1v1h-1zM94 789h1v2h-1zM94 792h1v1h-1zM94 794h1v33h-1zM95 793h1v5h-1zM95 799h1v28h-1zM96 795h1v1h-1zM96 797h1v3h-1zM96 801h1v26h-1zM97 773h1v1h-1zM97 775h1v4h-1zM97 780h1v16h-1zM97 798h1v29h-1zM98 771h1v2h-1zM98 774h1v1h-1zM98 776h1v51h-1zM99 782h1v1h-1zM99 796h1v1h-1zM99 799h1v1h-1zM99 801h1v26h-1zM100 786h1v1h-1zM100 788h1v1h-1zM100 791h1v36h-1zM101 783h1v1h-1zM101 786h1v1h-1zM101 789h1v1h-1zM101 791h1v2h-1zM101 794h1v5h-1zM101 801h1v26h-1zM102 800h1v27h-1zM103 793h1v5h-1zM103 800h1v27h-1zM104 785h1v1h-1zM104 787h1v12h-1zM104 800h1v1h-1zM104 802h1v25h-1z" fill="#CD8500" shape-rendering="crispEdges"/>
<path d="M81.7 770.67h1.2v1.2h-1.2ZM87.8 747.07h1.2v1.2h-1.2ZM87.8 754.73h1.2v1.2h-1.2ZM87.8 761.11h1.2v1.2h-1.2ZM87.8 765.89h1.2v1.2h-1.2ZM97.4 756.32h1.2v1.2h-1.2ZM97.4 763.5h1.2v1.2h-1.2ZM97.6 766.69h1.2v1.2h-1.2ZM101.7 781.84h1.2v1.2h-1.2Z" fill="#CD8500"/>
<text transform="translate(93.65,838.2) scale(0.78,1)" class="tk" text-anchor="middle">2</text>
<path d="M109 786h1v11h-1zM109 798h1v29h-1zM110 790h1v1h-1zM110 792h1v1h-1zM110 796h1v31h-1zM111 793h1v34h-1zM112 790h1v1h-1zM112 800h1v27h-1zM113 789h1v38h-1zM114 794h1v5h-1zM114 800h1v27h-1zM115 790h1v1h-1zM115 792h1v3h-1zM115 796h1v31h-1zM116 792h1v1h-1zM116 797h1v30h-1zM117 790h1v4h-1zM117 795h1v3h-1zM117 800h1v27h-1zM118 793h1v5h-1zM118 799h1v28h-1zM119 795h1v2h-1zM119 798h1v29h-1zM120 788h1v2h-1zM120 792h1v1h-1zM120 794h1v3h-1zM120 798h1v29h-1zM121 788h1v1h-1zM121 791h1v3h-1zM121 795h1v1h-1zM121 799h1v28h-1zM122 789h1v1h-1zM122 791h1v2h-1zM122 794h1v1h-1zM122 796h1v31h-1zM123 787h1v1h-1zM123 789h1v7h-1zM123 797h1v30h-1zM124 788h1v2h-1zM124 791h1v1h-1zM124 793h1v1h-1zM124 795h1v1h-1zM124 797h1v30h-1zM125 796h1v31h-1zM126 786h1v3h-1zM126 790h1v1h-1zM126 792h1v3h-1zM126 796h1v31h-1zM127 780h1v1h-1zM127 782h1v1h-1zM127 787h1v3h-1zM127 794h1v33h-1zM128 793h1v3h-1zM128 798h1v29h-1zM129 784h1v1h-1zM129 786h1v1h-1zM129 788h1v3h-1zM129 793h1v6h-1zM129 800h1v27h-1z" fill="#000080" shape-rendering="crispEdges"/>
<path d="M109.4 775.46h1.2v1.2h-1.2ZM109.6 777.85h1.2v1.2h-1.2ZM109.5 782.64h1.2v1.2h-1.2ZM126.5 764.29h1.2v1.2h-1.2ZM126.4 780.25h1.2v1.2h-1.2Z" fill="#000080"/>
<text transform="translate(120.15,838.2) scale(0.78,1)" class="tk" text-anchor="middle">3</text>
<path d="M134 786h1v1h-1zM134 788h1v1h-1zM134 790h1v1h-1zM134 793h1v1h-1zM134 796h1v31h-1zM135 778h1v1h-1zM135 782h1v1h-1zM135 784h1v1h-1zM135 786h1v2h-1zM135 790h1v2h-1zM135 793h1v1h-1zM135 795h1v32h-1zM136 790h1v1h-1zM136 793h1v3h-1zM136 797h1v2h-1zM136 800h1v27h-1zM137 785h1v3h-1zM137 791h1v3h-1zM137 795h1v2h-1zM137 799h1v28h-1zM138 785h1v1h-1zM138 796h1v1h-1zM138 801h1v26h-1zM139 795h1v1h-1zM139 797h1v3h-1zM139 802h1v25h-1zM140 794h1v2h-1zM140 797h1v2h-1zM140 800h1v27h-1zM141 788h1v1h-1zM141 790h1v3h-1zM141 794h1v1h-1zM141 796h1v31h-1zM142 793h1v1h-1zM142 797h1v30h-1zM143 791h1v3h-1zM143 795h1v1h-1zM143 797h1v2h-1zM143 800h1v27h-1zM144 789h1v1h-1zM144 792h1v35h-1zM145 792h1v1h-1zM145 796h1v1h-1zM145 800h1v27h-1zM146 783h1v1h-1zM146 786h1v1h-1zM146 788h1v3h-1zM146 793h1v34h-1zM147 725h1v1h-1zM147 727h1v4h-1zM147 732h1v2h-1zM147 735h1v1h-1zM147 737h1v2h-1zM147 742h1v1h-1zM147 746h1v5h-1zM147 752h1v8h-1zM147 761h1v2h-1zM147 764h1v1h-1zM147 768h1v1h-1zM147 775h1v2h-1zM147 779h1v1h-1zM147 783h1v3h-1zM147 787h1v3h-1zM147 791h1v6h-1zM147 798h1v29h-1zM148 724h1v1h-1zM148 731h1v1h-1zM148 736h1v4h-1zM148 742h1v12h-1zM148 756h1v1h-1zM148 758h1v4h-1zM148 765h1v2h-1zM148 768h1v2h-1zM148 777h1v3h-1zM148 781h1v2h-1zM148 785h1v1h-1zM148 789h1v2h-1zM148 794h1v33h-1zM149 796h1v31h-1zM150 789h1v1h-1zM150 791h1v8h-1zM150 800h1v27h-1z" fill="#CD8500" shape-rendering="crispEdges"/>
<path d="M147.3 617.55h1.2v1.2h-1.2ZM147.3 622.34h1.2v1.2h-1.2ZM147.3 634.3h1.2v1.2h-1.2ZM147.3 655.84h1.2v1.2h-1.2ZM147.3 679.76h1.2v1.2h-1.2ZM147.3 684.54h1.2v1.2h-1.2ZM147.3 694.59h1.2v1.2h-1.2ZM147.3 709.27h1.2v1.2h-1.2ZM147.3 717.4h1.2v1.2h-1.2Z" fill="#CD8500"/>
<text transform="translate(143.1,838.2) scale(0.78,1)" class="tk" text-anchor="middle">4</text>
<path d="M155 797h1v2h-1zM155 800h1v27h-1zM156 773h1v1h-1zM156 775h1v1h-1zM156 777h1v1h-1zM156 783h1v15h-1zM156 799h1v28h-1zM157 773h1v1h-1zM157 775h1v1h-1zM157 777h1v1h-1zM157 779h1v4h-1zM157 786h1v9h-1zM157 796h1v31h-1zM158 783h1v1h-1zM158 786h1v6h-1zM158 793h1v34h-1zM159 790h1v1h-1zM159 792h1v3h-1zM159 796h1v2h-1zM159 799h1v28h-1zM160 792h1v2h-1zM160 797h1v30h-1zM161 792h1v2h-1zM161 798h1v29h-1zM162 801h1v26h-1zM163 793h1v2h-1zM163 797h1v1h-1zM163 799h1v28h-1zM164 797h1v1h-1zM164 800h1v27h-1zM165 797h1v3h-1zM165 801h1v26h-1z" fill="#000080" shape-rendering="crispEdges"/>
<text transform="translate(161.1,838.2) scale(0.78,1)" class="tk" text-anchor="middle">5</text>
<path d="M170 785h1v1h-1zM170 795h1v1h-1zM170 797h1v30h-1zM171 774h1v1h-1zM171 776h1v1h-1zM171 778h1v1h-1zM171 781h1v46h-1zM172 790h1v1h-1zM172 792h1v6h-1zM172 799h1v28h-1zM173 776h1v1h-1zM173 789h1v1h-1zM173 796h1v31h-1zM174 787h1v3h-1zM174 792h1v2h-1zM174 796h1v31h-1zM175 789h1v2h-1zM175 793h1v1h-1zM175 795h1v32h-1zM176 787h1v1h-1zM176 789h1v38h-1zM177 802h1v25h-1zM178 798h1v1h-1zM178 803h1v24h-1zM179 791h1v1h-1zM179 793h1v1h-1zM179 797h1v4h-1zM179 802h1v25h-1z" fill="#CD8500" shape-rendering="crispEdges"/>
<path d="M170.8 753.13h1.2v1.2h-1.2ZM170.8 757.91h1.2v1.2h-1.2ZM170.9 759.51h1.2v1.2h-1.2Z" fill="#CD8500"/>
<text transform="translate(175.4,838.2) scale(0.78,1)" class="tk" text-anchor="middle">6</text>
<path d="M183 800h1v1h-1zM183 803h1v24h-1zM184 797h1v1h-1zM184 800h1v27h-1zM185 793h1v34h-1zM186 778h1v1h-1zM186 780h1v1h-1zM186 782h1v3h-1zM186 786h1v8h-1zM186 795h1v1h-1zM186 798h1v29h-1zM187 787h1v1h-1zM187 799h1v28h-1zM188 781h1v1h-1zM188 784h1v6h-1zM188 791h1v36h-1zM189 789h1v1h-1zM189 795h1v1h-1zM189 797h1v30h-1zM190 796h1v1h-1zM190 798h1v29h-1zM191 792h1v35h-1z" fill="#000080" shape-rendering="crispEdges"/>
<text transform="translate(188.2,838.2) scale(0.78,1)" class="tk" text-anchor="middle">7</text>
<path d="M196 790h1v3h-1zM196 794h1v2h-1zM196 797h1v2h-1zM196 800h1v27h-1zM197 799h1v28h-1zM198 797h1v1h-1zM198 799h1v28h-1zM199 774h1v1h-1zM199 777h1v2h-1zM199 783h1v3h-1zM199 787h1v5h-1zM199 793h1v2h-1zM199 796h1v31h-1zM200 793h1v2h-1zM200 798h1v29h-1zM201 787h1v1h-1zM201 789h1v1h-1zM201 791h1v8h-1zM201 800h1v27h-1zM202 798h1v29h-1z" fill="#CD8500" shape-rendering="crispEdges"/>
<text transform="translate(199.8,838.2) scale(0.78,1)" class="tk" text-anchor="middle">8</text>
<path d="M207 784h1v1h-1zM207 790h1v1h-1zM207 792h1v1h-1zM207 794h1v33h-1zM208 786h1v1h-1zM208 789h1v2h-1zM208 792h1v2h-1zM208 795h1v32h-1zM209 783h1v1h-1zM209 785h1v1h-1zM209 789h1v3h-1zM209 793h1v34h-1zM210 784h1v9h-1zM210 794h1v2h-1zM210 797h1v30h-1zM211 787h1v3h-1zM211 791h1v1h-1zM211 794h1v33h-1zM212 791h1v3h-1zM212 795h1v2h-1zM212 798h1v29h-1zM213 793h1v1h-1zM213 795h1v32h-1z" fill="#000080" shape-rendering="crispEdges"/>
<path d="M207.4 771.15h1.2v1.2h-1.2ZM208.9 775.46h1.2v1.2h-1.2ZM210.4 778.65h1.2v1.2h-1.2Z" fill="#000080"/>
<text transform="translate(210.9,838.2) scale(0.78,1)" class="tk" text-anchor="middle">9</text>
<path d="M218 787h1v1h-1zM218 789h1v1h-1zM218 791h1v6h-1zM218 798h1v29h-1zM219 789h1v38h-1zM220 784h1v2h-1zM220 787h1v1h-1zM220 791h1v6h-1zM220 798h1v29h-1zM221 791h1v1h-1zM221 794h1v4h-1zM221 800h1v27h-1zM222 798h1v29h-1zM223 793h1v2h-1zM223 796h1v31h-1zM224 797h1v30h-1z" fill="#CD8500" shape-rendering="crispEdges"/>
<path d="M223.7 770.67h1.2v1.2h-1.2ZM221.4 777.05h1.2v1.2h-1.2Z" fill="#CD8500"/>
<text transform="translate(222.05,838.2) scale(0.78,1)" class="tk" text-anchor="middle">10</text>
<path d="M229 790h1v5h-1zM229 796h1v1h-1zM229 798h1v29h-1zM230 781h1v2h-1zM230 784h1v7h-1zM230 792h1v4h-1zM230 797h1v1h-1zM230 799h1v28h-1zM231 799h1v28h-1zM232 790h1v1h-1zM232 792h1v2h-1zM232 795h1v3h-1zM232 799h1v28h-1zM233 790h1v3h-1zM233 795h1v2h-1zM233 799h1v28h-1zM234 788h1v1h-1zM234 799h1v28h-1z" fill="#000080" shape-rendering="crispEdges"/>
<path d="M229.9 772.27h1.2v1.2h-1.2Z" fill="#000080"/>
<text transform="translate(232.7,838.2) scale(0.78,1)" class="tk" text-anchor="middle">11</text>
<path d="M239 792h1v3h-1zM239 797h1v5h-1zM239 803h1v24h-1zM240 788h1v1h-1zM240 790h1v1h-1zM240 792h1v1h-1zM240 794h1v33h-1zM241 794h1v4h-1zM241 799h1v28h-1zM242 792h1v1h-1zM242 796h1v31h-1zM243 798h1v3h-1zM243 803h1v24h-1zM244 796h1v1h-1zM244 798h1v29h-1z" fill="#CD8500" shape-rendering="crispEdges"/>
<text transform="translate(242.55,838.2) scale(0.78,1)" class="tk" text-anchor="middle">12</text>
<path d="M249 778h1v8h-1zM249 788h1v4h-1zM249 793h1v34h-1zM250 775h1v1h-1zM250 778h1v1h-1zM250 782h1v3h-1zM250 787h1v1h-1zM250 790h1v2h-1zM250 793h1v34h-1zM251 772h1v2h-1zM251 775h1v1h-1zM251 778h1v2h-1zM251 783h1v3h-1zM251 787h1v8h-1zM251 796h1v31h-1zM252 773h1v5h-1zM252 784h1v43h-1zM253 794h1v33h-1z" fill="#000080" shape-rendering="crispEdges"/>
<path d="M251.4 762.7h1.2v1.2h-1.2ZM251.6 766.69h1.2v1.2h-1.2Z" fill="#000080"/>
<text transform="translate(252.15,838.2) scale(0.78,1)" class="tk" text-anchor="middle">13</text>
<path d="M258 794h1v1h-1zM258 800h1v27h-1zM259 798h1v1h-1zM259 800h1v27h-1zM260 788h1v3h-1zM260 792h1v1h-1zM260 794h1v2h-1zM260 797h1v2h-1zM260 800h1v27h-1zM261 779h1v1h-1zM261 781h1v1h-1zM261 785h1v1h-1zM261 787h1v40h-1zM262 779h1v2h-1zM262 784h1v1h-1zM262 788h1v1h-1zM262 792h1v4h-1zM262 797h1v30h-1z" fill="#CD8500" shape-rendering="crispEdges"/>
<path d="M261.4 769.88h1.2v1.2h-1.2Z" fill="#CD8500"/>
<text transform="translate(261.05,838.2) scale(0.78,1)" class="tk" text-anchor="middle">14</text>
<path d="M267 806h1v21h-1zM268 804h1v1h-1zM268 806h1v21h-1zM269 795h1v2h-1zM269 799h1v28h-1zM270 795h1v1h-1zM270 797h1v30h-1zM271 780h1v1h-1zM271 785h1v42h-1z" fill="#000080" shape-rendering="crispEdges"/>
<text transform="translate(270,838.2) scale(0.78,1)" class="tk" text-anchor="middle">15</text>
<path d="M275 801h1v26h-1zM276 798h1v1h-1zM276 800h1v27h-1z" fill="#CD8500" shape-rendering="crispEdges"/>
<text transform="translate(276.55,838.2) scale(0.78,1)" class="tk" text-anchor="middle">16</text>
<path d="M280 797h1v30h-1zM281 774h1v2h-1zM281 777h1v1h-1zM281 780h1v9h-1zM281 790h1v2h-1zM281 795h1v32h-1zM282 774h1v1h-1zM282 777h1v1h-1zM282 779h1v48h-1zM283 793h1v2h-1zM283 797h1v30h-1zM284 793h1v1h-1zM284 795h1v2h-1zM284 798h1v29h-1z" fill="#000080" shape-rendering="crispEdges"/>
<path d="M281.2 764.29h1.2v1.2h-1.2ZM281.2 769.08h1.2v1.2h-1.2Z" fill="#000080"/>
<text transform="translate(283.3,838.2) scale(0.78,1)" class="tk" text-anchor="middle">17</text>
<path d="M288 790h1v2h-1zM288 794h1v33h-1zM289 792h1v2h-1zM289 795h1v2h-1zM289 798h1v29h-1zM290 788h1v1h-1zM290 791h1v5h-1zM290 797h1v30h-1zM291 783h1v1h-1zM291 785h1v3h-1zM291 791h1v2h-1zM291 794h1v33h-1zM292 789h1v1h-1zM292 791h1v1h-1zM292 793h1v1h-1zM292 795h1v1h-1zM292 797h1v30h-1z" fill="#CD8500" shape-rendering="crispEdges"/>
<path d="M290.7 771.15h1.2v1.2h-1.2ZM290.7 777.05h1.2v1.2h-1.2Z" fill="#CD8500"/>
<text transform="translate(291.4,838.2) scale(0.78,1)" class="tk" text-anchor="middle">18</text>
<path d="M296 800h1v1h-1zM296 802h1v25h-1zM297 799h1v2h-1zM297 802h1v25h-1zM298 794h1v2h-1zM298 797h1v30h-1zM299 799h1v28h-1zM300 789h1v1h-1zM300 791h1v1h-1zM300 794h1v1h-1zM300 796h1v1h-1zM300 798h1v5h-1zM300 804h1v23h-1z" fill="#000080" shape-rendering="crispEdges"/>
<path d="M298.9 779.45h1.2v1.2h-1.2ZM299 788.22h1.2v1.2h-1.2Z" fill="#000080"/>
<text transform="translate(299.3,838.2) scale(0.78,1)" class="tk" text-anchor="middle">19</text>
<path d="M304 789h1v1h-1zM304 792h1v1h-1zM304 794h1v1h-1zM304 797h1v30h-1zM305 790h1v1h-1zM305 792h1v1h-1zM305 794h1v33h-1zM306 792h1v35h-1zM307 791h1v1h-1zM307 793h1v34h-1zM308 794h1v1h-1zM308 796h1v31h-1z" fill="#CD8500" shape-rendering="crispEdges"/>
<path d="M305.9 777.05h1.2v1.2h-1.2ZM306.4 780.25h1.2v1.2h-1.2ZM305.4 783.44h1.2v1.2h-1.2Z" fill="#CD8500"/>
<text transform="translate(307.45,838.2) scale(0.78,1)" class="tk" text-anchor="middle">20</text>
<path d="M313 781h1v1h-1zM313 784h1v1h-1zM313 786h1v1h-1zM313 791h1v1h-1zM313 795h1v4h-1zM313 800h1v27h-1zM314 782h1v1h-1zM314 784h1v1h-1zM314 786h1v2h-1zM314 789h1v2h-1zM314 792h1v3h-1zM314 796h1v31h-1zM315 791h1v1h-1zM315 794h1v3h-1zM315 798h1v29h-1zM316 793h1v6h-1zM316 800h1v27h-1z" fill="#000080" shape-rendering="crispEdges"/>
<path d="M312.9 778.65h1.2v1.2h-1.2Z" fill="#000080"/>
<text transform="translate(315.5,838.2) scale(0.78,1)" class="tk" text-anchor="middle">21</text>
<path d="M320 793h1v3h-1zM320 799h1v28h-1zM321 802h1v1h-1zM321 804h1v23h-1zM322 807h1v20h-1z" fill="#CD8500" shape-rendering="crispEdges"/>
<path d="M320.4 788.7h1.2v1.2h-1.2ZM320.4 793.8h1.2v1.2h-1.2Z" fill="#CD8500"/>
<text transform="translate(322.2,838.2) scale(0.78,1)" class="tk" text-anchor="middle">22</text>
<path d="M327 797h1v30h-1zM328 788h1v2h-1zM328 792h1v35h-1zM329 798h1v1h-1zM329 800h1v27h-1z" fill="#000080" shape-rendering="crispEdges"/>
<path d="M328.1 786.62h1.2v1.2h-1.2Z" fill="#000080"/>
<text transform="translate(329.1,838.2) scale(0.78,1)" class="tk" text-anchor="middle">23</text>
<path d="M334 792h1v1h-1zM334 795h1v4h-1zM334 800h1v27h-1zM335 793h1v1h-1zM335 795h1v2h-1zM335 799h1v28h-1zM336 783h1v1h-1zM336 785h1v1h-1zM336 787h1v1h-1zM336 789h1v1h-1zM336 791h1v2h-1zM336 794h1v33h-1zM337 791h1v36h-1z" fill="#CD8500" shape-rendering="crispEdges"/>
<text transform="translate(336.25,838.2) scale(0.78,1)" class="tk" text-anchor="middle">24</text>
<path d="M341 795h1v32h-1zM342 791h1v36h-1z" fill="#000080" shape-rendering="crispEdges"/>
<path d="M341.4 766.21h1.2v1.2h-1.2Z" fill="#000080"/>
<text transform="translate(342.65,838.2) scale(0.78,1)" class="tk" text-anchor="middle">25</text>
<path d="M347 778h1v1h-1zM347 780h1v1h-1zM347 782h1v1h-1zM347 785h1v1h-1zM347 787h1v1h-1zM347 790h1v7h-1zM347 798h1v2h-1zM347 801h1v26h-1zM348 778h1v24h-1zM348 804h1v23h-1zM349 788h1v1h-1zM349 790h1v5h-1zM349 798h1v1h-1zM349 800h1v27h-1z" fill="#CD8500" shape-rendering="crispEdges"/>
<text transform="translate(348.8,838.2) scale(0.78,1)" class="tk" text-anchor="middle">26</text>
<path d="M353 782h1v2h-1zM353 786h1v41h-1zM354 737h1v1h-1zM354 739h1v4h-1zM354 745h1v3h-1zM354 750h1v14h-1zM354 765h1v5h-1zM354 771h1v15h-1zM354 787h1v40h-1zM355 735h1v3h-1zM355 739h1v1h-1zM355 741h1v1h-1zM355 743h1v1h-1zM355 745h1v15h-1zM355 761h1v26h-1zM355 788h1v39h-1z" fill="#000080" shape-rendering="crispEdges"/>
<path d="M354.2 617.55h1.2v1.2h-1.2ZM354.2 628.72h1.2v1.2h-1.2ZM354.2 631.91h1.2v1.2h-1.2ZM354.2 645.15h1.2v1.2h-1.2ZM354.2 670.67h1.2v1.2h-1.2ZM354.2 691.4h1.2v1.2h-1.2ZM354.2 698.9h1.2v1.2h-1.2ZM354.2 705.28h1.2v1.2h-1.2ZM354.2 710.07h1.2v1.2h-1.2ZM354.2 718.04h1.2v1.2h-1.2ZM354.2 723.62h1.2v1.2h-1.2ZM354.2 729.21h1.2v1.2h-1.2ZM354.2 734.95h1.2v1.2h-1.2ZM354.2 740.37h1.2v1.2h-1.2Z" fill="#000080"/>
<text transform="translate(355.45,838.2) scale(0.78,1)" class="tk" text-anchor="middle">27</text>
<path d="M360 797h1v1h-1zM360 800h1v3h-1zM360 804h1v1h-1zM360 806h1v21h-1zM361 796h1v1h-1zM361 798h1v2h-1zM361 801h1v1h-1zM361 803h1v1h-1zM361 805h1v2h-1zM361 808h1v19h-1zM362 802h1v6h-1zM362 809h1v18h-1z" fill="#CD8500" shape-rendering="crispEdges"/>
<path d="M360.4 780.88h1.2v1.2h-1.2ZM360.4 787.74h1.2v1.2h-1.2Z" fill="#CD8500"/>
<text transform="translate(362,838.2) scale(0.78,1)" class="tk" text-anchor="middle">28</text>
<path d="M366 808h1v19h-1zM367 807h1v20h-1z" fill="#000080" shape-rendering="crispEdges"/>
<path d="M366.4 800.18h1.2v1.2h-1.2ZM366.4 806.56h1.2v1.2h-1.2Z" fill="#000080"/>
<text transform="translate(368.75,833.35) rotate(-90)" class="tr" text-anchor="end">LGE22</text>
<path d="M371 813h1v4h-1zM371 818h1v9h-1zM372 813h1v14h-1z" fill="#CD8500" shape-rendering="crispEdges"/>
<text transform="translate(373.6,833.35) rotate(-90)" class="tr" text-anchor="end">LGE64</text>
<line x1="27.9" y1="730.4" x2="385.2" y2="730.4" stroke="#555" stroke-width="1"/>
<line x1="27.9" y1="750.9" x2="385.2" y2="750.9" stroke="#9de49d" stroke-width="1"/>
<text x="206.6" y="855.5" class="ax" text-anchor="middle">Chromosome</text>
<text transform="translate(10.8,715.4) rotate(-90) scale(0.97,1)" class="ax" text-anchor="middle">-log<tspan font-size="4.5" dy="1.5">10</tspan><tspan dy="-1.5">(</tspan><tspan font-style="italic">P − value</tspan>)</text>
<text transform="translate(33.2,596.1) scale(0.83,1)" class="lab">C</text>
<rect x="432.7" y="132.2" width="249.6" height="129.3" fill="none" stroke="#777" stroke-width="0.8"/>
<line x1="432.7" y1="256.7" x2="432.7" y2="144.2" stroke="#000" stroke-width="1.6"/>
<line x1="428.7" y1="256.7" x2="432.7" y2="256.7" stroke="#000" stroke-width="1.6"/>
<text transform="translate(425.5,256.7) rotate(-90)" class="qt" text-anchor="middle">0</text>
<line x1="428.7" y1="237.95" x2="432.7" y2="237.95" stroke="#000" stroke-width="1.6"/>
<text transform="translate(425.5,237.95) rotate(-90)" class="qt" text-anchor="middle">1</text>
<line x1="428.7" y1="219.2" x2="432.7" y2="219.2" stroke="#000" stroke-width="1.6"/>
<text transform="translate(425.5,219.2) rotate(-90)" class="qt" text-anchor="middle">2</text>
<line x1="428.7" y1="200.45" x2="432.7" y2="200.45" stroke="#000" stroke-width="1.6"/>
<text transform="translate(425.5,200.45) rotate(-90)" class="qt" text-anchor="middle">3</text>
<line x1="428.7" y1="181.7" x2="432.7" y2="181.7" stroke="#000" stroke-width="1.6"/>
<text transform="translate(425.5,181.7) rotate(-90)" class="qt" text-anchor="middle">4</text>
<line x1="428.7" y1="162.95" x2="432.7" y2="162.95" stroke="#000" stroke-width="1.6"/>
<text transform="translate(425.5,162.95) rotate(-90)" class="qt" text-anchor="middle">5</text>
<line x1="428.7" y1="144.2" x2="432.7" y2="144.2" stroke="#000" stroke-width="1.6"/>
<text transform="translate(425.5,144.2) rotate(-90)" class="qt" text-anchor="middle">6</text>
<line x1="441.9" y1="261.5" x2="677.1" y2="261.5" stroke="#000" stroke-width="1.6"/>
<line x1="441.9" y1="261.5" x2="441.9" y2="265.5" stroke="#000" stroke-width="1.6"/>
<text x="441.9" y="275" class="qt" text-anchor="middle">0</text>
<line x1="481.1" y1="261.5" x2="481.1" y2="265.5" stroke="#000" stroke-width="1.6"/>
<text x="481.1" y="275" class="qt" text-anchor="middle">1</text>
<line x1="520.3" y1="261.5" x2="520.3" y2="265.5" stroke="#000" stroke-width="1.6"/>
<text x="520.3" y="275" class="qt" text-anchor="middle">2</text>
<line x1="559.5" y1="261.5" x2="559.5" y2="265.5" stroke="#000" stroke-width="1.6"/>
<text x="559.5" y="275" class="qt" text-anchor="middle">3</text>
<line x1="598.7" y1="261.5" x2="598.7" y2="265.5" stroke="#000" stroke-width="1.6"/>
<text x="598.7" y="275" class="qt" text-anchor="middle">4</text>
<line x1="637.9" y1="261.5" x2="637.9" y2="265.5" stroke="#000" stroke-width="1.6"/>
<text x="637.9" y="275" class="qt" text-anchor="middle">5</text>
<line x1="677.1" y1="261.5" x2="677.1" y2="265.5" stroke="#000" stroke-width="1.6"/>
<text x="677.1" y="275" class="qt" text-anchor="middle">6</text>
<line x1="432.7" y1="261.1" x2="682.3" y2="141.71" stroke="#f06050" stroke-width="0.8"/>
<path d="M441.7 256.7 L480 238 L522.9 216.1 L540 207.7 L550.5 201.1 L561 194.5 L571.5 189.3 L576.8 186 L582 182.3 L587.3 180.1 L592.6 177.4 L597.8 174.8 L603.1 172.2 L608.3 169.6 L611.6 167.6 L613.6 165.6" fill="none" stroke="#000080" stroke-width="2.0" stroke-linejoin="round" stroke-linecap="round"/>
<path d="M441.7 256.7 L480 238 L522.9 216.1" fill="none" stroke="#33105e" stroke-width="1.9" stroke-linejoin="round" stroke-linecap="round"/>
<path d="M672.5 136.4h1.6v1.6h-1.6ZM653.4 136.9h1.6v1.6h-1.6ZM644.9 139.1h1.6v1.6h-1.6ZM639.1 140.4h1.6v1.6h-1.6ZM634.9 143.6h1.6v1.6h-1.6ZM631.5 143.6h1.6v1.6h-1.6ZM628.5 144.2h1.6v1.6h-1.6ZM625.9 149.4h1.6v1.6h-1.6ZM624.6 149.7h1.6v1.6h-1.6ZM623.2 149.9h1.6v1.6h-1.6ZM622 150.4h1.6v1.6h-1.6ZM620.7 154.3h1.6v1.6h-1.6ZM618.7 160.2h1.6v1.6h-1.6ZM617.4 160.5h1.6v1.6h-1.6ZM616.1 160.7h1.6v1.6h-1.6ZM614.7 161h1.6v1.6h-1.6Z" fill="#000080"/>
<text transform="translate(557.5,288.6) scale(1,1)" class="qa" text-anchor="middle">Expected&#160;&#160;−log<tspan font-size="4.3" dy="1.4">10</tspan><tspan dy="-1.4">(</tspan><tspan font-style="italic">p</tspan>)</text>
<text transform="translate(407.5,197) rotate(-90)" class="qa" text-anchor="middle">Observed&#160;&#160;−log<tspan font-size="4.3" dy="1.4">10</tspan><tspan dy="-1.4">(</tspan><tspan font-style="italic">p</tspan>)</text>
<rect x="428.7" y="420.6" width="249.6" height="128.4" fill="none" stroke="#777" stroke-width="0.8"/>
<line x1="428.7" y1="544.3" x2="428.7" y2="427.3" stroke="#000" stroke-width="1.6"/>
<line x1="424.7" y1="544.3" x2="428.7" y2="544.3" stroke="#000" stroke-width="1.6"/>
<text transform="translate(421.5,544.3) rotate(-90)" class="qt" text-anchor="middle">0</text>
<line x1="424.7" y1="524.8" x2="428.7" y2="524.8" stroke="#000" stroke-width="1.6"/>
<text transform="translate(421.5,524.8) rotate(-90)" class="qt" text-anchor="middle">2</text>
<line x1="424.7" y1="505.3" x2="428.7" y2="505.3" stroke="#000" stroke-width="1.6"/>
<text transform="translate(421.5,505.3) rotate(-90)" class="qt" text-anchor="middle">4</text>
<line x1="424.7" y1="485.8" x2="428.7" y2="485.8" stroke="#000" stroke-width="1.6"/>
<text transform="translate(421.5,485.8) rotate(-90)" class="qt" text-anchor="middle">6</text>
<line x1="424.7" y1="466.3" x2="428.7" y2="466.3" stroke="#000" stroke-width="1.6"/>
<text transform="translate(421.5,466.3) rotate(-90)" class="qt" text-anchor="middle">8</text>
<line x1="424.7" y1="446.8" x2="428.7" y2="446.8" stroke="#000" stroke-width="1.6"/>
<text transform="translate(421.5,446.8) rotate(-90)" class="qt" text-anchor="middle">10</text>
<line x1="424.7" y1="427.3" x2="428.7" y2="427.3" stroke="#000" stroke-width="1.6"/>
<text transform="translate(421.5,427.3) rotate(-90)" class="qt" text-anchor="middle">12</text>
<line x1="437.9" y1="549" x2="672.8" y2="549" stroke="#000" stroke-width="1.6"/>
<line x1="437.9" y1="549" x2="437.9" y2="553" stroke="#000" stroke-width="1.6"/>
<text x="437.9" y="562.5" class="qt" text-anchor="middle">0</text>
<line x1="477.05" y1="549" x2="477.05" y2="553" stroke="#000" stroke-width="1.6"/>
<text x="477.05" y="562.5" class="qt" text-anchor="middle">1</text>
<line x1="516.2" y1="549" x2="516.2" y2="553" stroke="#000" stroke-width="1.6"/>
<text x="516.2" y="562.5" class="qt" text-anchor="middle">2</text>
<line x1="555.35" y1="549" x2="555.35" y2="553" stroke="#000" stroke-width="1.6"/>
<text x="555.35" y="562.5" class="qt" text-anchor="middle">3</text>
<line x1="594.5" y1="549" x2="594.5" y2="553" stroke="#000" stroke-width="1.6"/>
<text x="594.5" y="562.5" class="qt" text-anchor="middle">4</text>
<line x1="633.65" y1="549" x2="633.65" y2="553" stroke="#000" stroke-width="1.6"/>
<text x="633.65" y="562.5" class="qt" text-anchor="middle">5</text>
<line x1="672.8" y1="549" x2="672.8" y2="553" stroke="#000" stroke-width="1.6"/>
<text x="672.8" y="562.5" class="qt" text-anchor="middle">6</text>
<line x1="428.7" y1="546.59" x2="678.3" y2="484.43" stroke="#f06050" stroke-width="0.8"/>
<path d="M438 544.3 L500 528.8 L516.1 523.5 L525 519.5 L530.3 516.9 L535.5 512.9 L540.8 508.3 L546 501.1 L551.3 494.5 L556.5 489.3 L561.8 483.4 L567 480.1 L572.3 476.8 L577.6 473.5 L580.2 470.2 L585.4 466.9 L590.7 463 L596 459.7 L601.2 456.4 L606.5 453.1" fill="none" stroke="#000080" stroke-width="2.0" stroke-linejoin="round" stroke-linecap="round"/>
<path d="M438 544.3 L500 528.8 L516.1 523.5" fill="none" stroke="#33105e" stroke-width="1.9" stroke-linejoin="round" stroke-linecap="round"/>
<path d="M668.5 424.1h1.6v1.6h-1.6ZM649.4 427.2h1.6v1.6h-1.6ZM640.7 428.8h1.6v1.6h-1.6ZM635.2 432.6h1.6v1.6h-1.6ZM630.7 433.8h1.6v1.6h-1.6ZM627.2 434.4h1.6v1.6h-1.6ZM624 435.7h1.6v1.6h-1.6ZM620.8 436h1.6v1.6h-1.6ZM618.7 436.4h1.6v1.6h-1.6ZM617.6 436.8h1.6v1.6h-1.6ZM616.3 437.8h1.6v1.6h-1.6ZM614.3 443.2h1.6v1.6h-1.6ZM613.5 445.1h1.6v1.6h-1.6ZM612.4 445.3h1.6v1.6h-1.6ZM610.3 447.7h1.6v1.6h-1.6ZM609.9 447.1h1.6v1.6h-1.6ZM607.6 451.3h1.6v1.6h-1.6Z" fill="#000080"/>
<text transform="translate(553.5,576) scale(1,1)" class="qa" text-anchor="middle">Expected&#160;&#160;−log<tspan font-size="4.3" dy="1.4">10</tspan><tspan dy="-1.4">(</tspan><tspan font-style="italic">p</tspan>)</text>
<text transform="translate(403.5,485) rotate(-90)" class="qa" text-anchor="middle">Observed&#160;&#160;−log<tspan font-size="4.3" dy="1.4">10</tspan><tspan dy="-1.4">(</tspan><tspan font-style="italic">p</tspan>)</text>
<rect x="435.5" y="704.1" width="242.4" height="125.3" fill="none" stroke="#777" stroke-width="0.8"/>
<line x1="435.5" y1="824.5" x2="435.5" y2="710.6" stroke="#000" stroke-width="1.6"/>
<line x1="431.5" y1="824.5" x2="435.5" y2="824.5" stroke="#000" stroke-width="1.6"/>
<text transform="translate(428.3,824.5) rotate(-90)" class="qt" text-anchor="middle">0</text>
<line x1="431.5" y1="796.02" x2="435.5" y2="796.02" stroke="#000" stroke-width="1.6"/>
<text transform="translate(428.3,796.02) rotate(-90)" class="qt" text-anchor="middle">5</text>
<line x1="431.5" y1="767.55" x2="435.5" y2="767.55" stroke="#000" stroke-width="1.6"/>
<text transform="translate(428.3,767.55) rotate(-90)" class="qt" text-anchor="middle">10</text>
<line x1="431.5" y1="739.08" x2="435.5" y2="739.08" stroke="#000" stroke-width="1.6"/>
<text transform="translate(428.3,739.08) rotate(-90)" class="qt" text-anchor="middle">15</text>
<line x1="431.5" y1="710.6" x2="435.5" y2="710.6" stroke="#000" stroke-width="1.6"/>
<text transform="translate(428.3,710.6) rotate(-90)" class="qt" text-anchor="middle">20</text>
<line x1="444.5" y1="829.4" x2="672.68" y2="829.4" stroke="#000" stroke-width="1.6"/>
<line x1="444.5" y1="829.4" x2="444.5" y2="833.4" stroke="#000" stroke-width="1.6"/>
<text x="444.5" y="842.9" class="qt" text-anchor="middle">0</text>
<line x1="482.53" y1="829.4" x2="482.53" y2="833.4" stroke="#000" stroke-width="1.6"/>
<text x="482.53" y="842.9" class="qt" text-anchor="middle">1</text>
<line x1="520.56" y1="829.4" x2="520.56" y2="833.4" stroke="#000" stroke-width="1.6"/>
<text x="520.56" y="842.9" class="qt" text-anchor="middle">2</text>
<line x1="558.59" y1="829.4" x2="558.59" y2="833.4" stroke="#000" stroke-width="1.6"/>
<text x="558.59" y="842.9" class="qt" text-anchor="middle">3</text>
<line x1="596.62" y1="829.4" x2="596.62" y2="833.4" stroke="#000" stroke-width="1.6"/>
<text x="596.62" y="842.9" class="qt" text-anchor="middle">4</text>
<line x1="634.65" y1="829.4" x2="634.65" y2="833.4" stroke="#000" stroke-width="1.6"/>
<text x="634.65" y="842.9" class="qt" text-anchor="middle">5</text>
<line x1="672.68" y1="829.4" x2="672.68" y2="833.4" stroke="#000" stroke-width="1.6"/>
<text x="672.68" y="842.9" class="qt" text-anchor="middle">6</text>
<line x1="435.5" y1="825.85" x2="677.9" y2="789.55" stroke="#f06050" stroke-width="0.8"/>
<path d="M444.3 824.4 L490 818.4 L504.6 815.2 L519.2 811.8 L525 810.5 L530.3 807.9 L535.5 803.9 L540.8 798 L546 790.8 L551.3 783.6 L556.5 777 L561.8 771.1 L567 766.5 L572.3 761.9 L574.9 758 L580.2 753.4 L585.4 748.8 L590.7 745.5 L596 738.9 L601.2 735.6 L606.5 731 L611.7 725.8 L614.3 724.2" fill="none" stroke="#000080" stroke-width="2.0" stroke-linejoin="round" stroke-linecap="round"/>
<path d="M444.3 824.4 L490 818.4 L504.6 815.2 L519.2 811.8" fill="none" stroke="#33105e" stroke-width="1.9" stroke-linejoin="round" stroke-linecap="round"/>
<path d="M668.1 708h1.6v1.6h-1.6ZM650 708.8h1.6v1.6h-1.6ZM641.6 713.3h1.6v1.6h-1.6ZM636 713.3h1.6v1.6h-1.6ZM631.7 714.1h1.6v1.6h-1.6ZM628 714.4h1.6v1.6h-1.6ZM625.6 714.6h1.6v1.6h-1.6ZM622.4 715.9h1.6v1.6h-1.6ZM620.7 716.4h1.6v1.6h-1.6ZM619.2 716.8h1.6v1.6h-1.6ZM617.7 717.2h1.6v1.6h-1.6ZM616.3 717.6h1.6v1.6h-1.6ZM614.3 722.9h1.6v1.6h-1.6Z" fill="#000080"/>
<text transform="translate(556.8,855.6) scale(0.97,1)" class="qa" text-anchor="middle">Expected&#160;&#160;−log<tspan font-size="4.3" dy="1.4">10</tspan><tspan dy="-1.4">(</tspan><tspan font-style="italic">p</tspan>)</text>
<text transform="translate(410.5,767) rotate(-90)" class="qa" text-anchor="middle">Observed&#160;&#160;−log<tspan font-size="4.3" dy="1.4">10</tspan><tspan dy="-1.4">(</tspan><tspan font-style="italic">p</tspan>)</text>
</svg>
</body></html>
